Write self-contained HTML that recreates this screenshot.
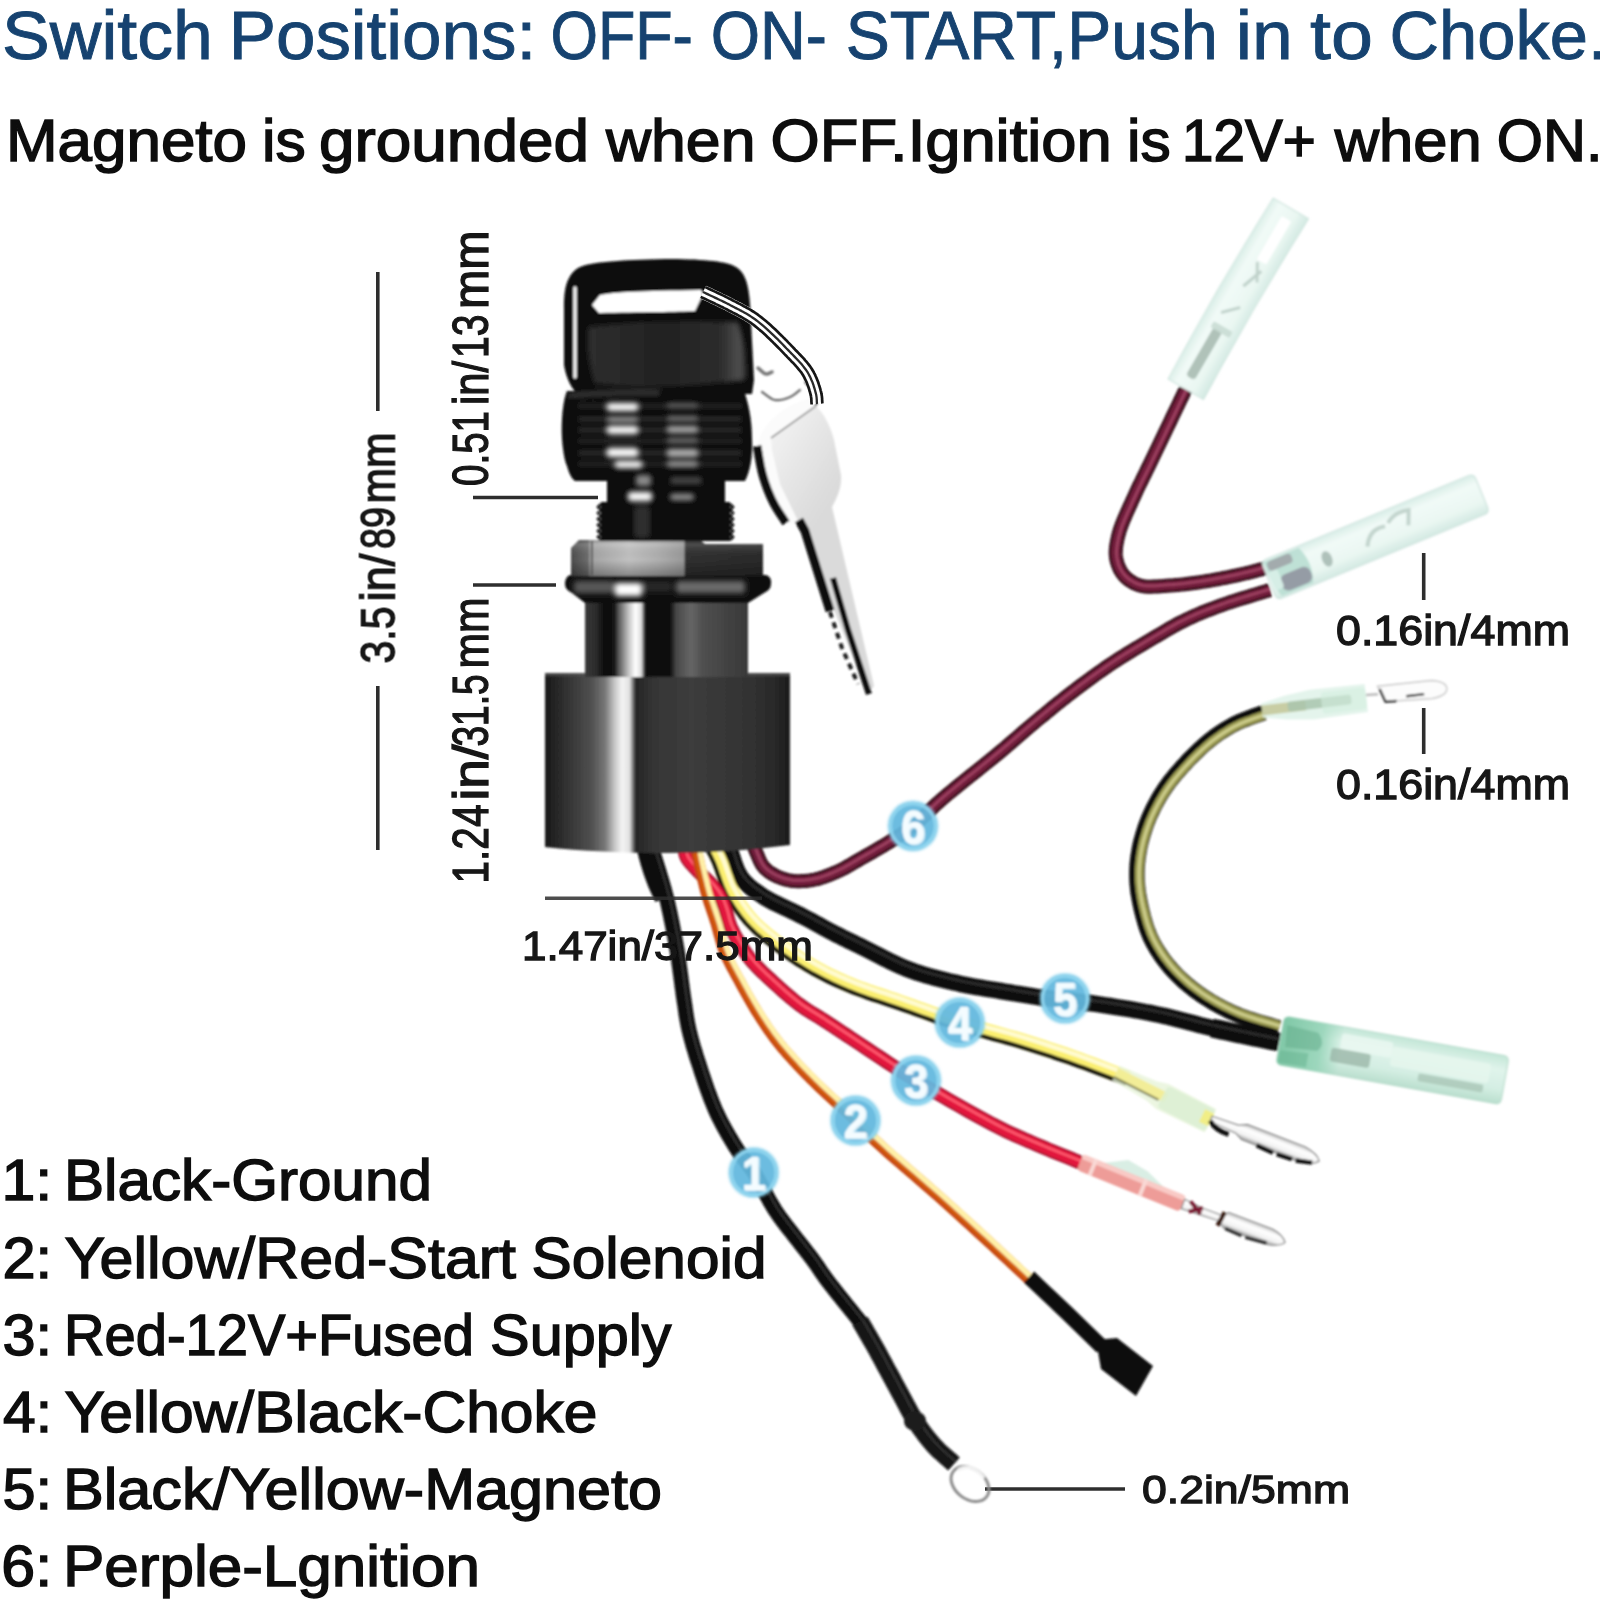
<!DOCTYPE html>
<html>
<head>
<meta charset="utf-8">
<title>Switch wiring diagram</title>
<style>
html,body{margin:0;padding:0;background:#fff;}
body{width:1600px;height:1600px;overflow:hidden;font-family:"Liberation Sans",sans-serif;}
svg{display:block;position:absolute;left:0;top:0;}
text{font-family:"Liberation Sans",sans-serif;}
.t1{fill:#14436f;stroke:#14436f;stroke-width:0.9px;font-size:68px;}
.t2{fill:#111;stroke:#111;stroke-width:1.5px;font-size:59.5px;}
.li{fill:#111;stroke:#111;stroke-width:1.4px;font-size:56.5px;}
.dm{fill:#141414;stroke:#141414;stroke-width:1.3px;font-size:38px;}
.dl{stroke:#2e2e2e;stroke-width:3.6;fill:none;}
.num{fill:#f4fcff;stroke:#f4fcff;stroke-width:0.6px;font-size:49px;font-weight:bold;text-anchor:middle;}
</style>
</head>
<body>
<svg width="1600" height="1600" viewBox="0 0 1600 1600">
<defs>
<filter id="soft" filterUnits="userSpaceOnUse" x="0" y="0" width="1600" height="1600"><feGaussianBlur stdDeviation="0.9"/></filter>
<filter id="soft2" filterUnits="userSpaceOnUse" x="0" y="0" width="1600" height="1600"><feGaussianBlur stdDeviation="1.6"/></filter>
<filter id="tsoft" filterUnits="userSpaceOnUse" x="0" y="0" width="1600" height="1600"><feGaussianBlur stdDeviation="0.6"/></filter>

<linearGradient id="gLow" gradientUnits="userSpaceOnUse" x1="545" y1="0" x2="790" y2="0">
<stop offset="0" stop-color="#181818"/><stop offset="0.08" stop-color="#303030"/><stop offset="0.19" stop-color="#505050"/><stop offset="0.245" stop-color="#777"/><stop offset="0.285" stop-color="#c8c8c8"/><stop offset="0.315" stop-color="#f4f4f4"/><stop offset="0.345" stop-color="#e0e0e0"/><stop offset="0.37" stop-color="#262626"/><stop offset="0.45" stop-color="#363636"/><stop offset="0.6" stop-color="#3c3c3c"/><stop offset="0.8" stop-color="#343434"/><stop offset="0.93" stop-color="#2a2a2a"/><stop offset="1" stop-color="#1c1c1c"/>
</linearGradient>
<linearGradient id="gUp" gradientUnits="userSpaceOnUse" x1="585" y1="0" x2="748" y2="0">
<stop offset="0" stop-color="#3a3a3a"/><stop offset="0.07" stop-color="#2a2a2a"/><stop offset="0.12" stop-color="#0c0c0c"/><stop offset="0.18" stop-color="#141414"/><stop offset="0.205" stop-color="#555"/><stop offset="0.27" stop-color="#c8c8c8"/><stop offset="0.31" stop-color="#fff"/><stop offset="0.345" stop-color="#dcdcdc"/><stop offset="0.37" stop-color="#0e0e0e"/><stop offset="0.52" stop-color="#0c0c0c"/><stop offset="0.56" stop-color="#484848"/><stop offset="0.65" stop-color="#666"/><stop offset="0.72" stop-color="#505050"/><stop offset="0.85" stop-color="#444"/><stop offset="1" stop-color="#383838"/>
</linearGradient>
<linearGradient id="gNut" gradientUnits="userSpaceOnUse" x1="571" y1="0" x2="764" y2="0">
<stop offset="0" stop-color="#4c4c4c"/><stop offset="0.09" stop-color="#6e6e6e"/><stop offset="0.1" stop-color="#a4a4a4"/><stop offset="0.3" stop-color="#c2c2c2"/><stop offset="0.45" stop-color="#b0b0b0"/><stop offset="0.583" stop-color="#9a9a9a"/><stop offset="0.594" stop-color="#303030"/><stop offset="1" stop-color="#2a2a2a"/>
</linearGradient>
<linearGradient id="gNutV" x1="0" y1="0" x2="0" y2="1">
<stop offset="0" stop-color="#000" stop-opacity="0.15"/><stop offset="0.12" stop-color="#fff" stop-opacity="0.15"/><stop offset="0.55" stop-color="#000" stop-opacity="0"/><stop offset="1" stop-color="#000" stop-opacity="0.3"/>
</linearGradient>
<linearGradient id="gKeyS" gradientUnits="userSpaceOnUse" x1="770" y1="420" x2="850" y2="470">
<stop offset="0" stop-color="#f4f4f4"/><stop offset="0.5" stop-color="#e6e6e6"/><stop offset="1" stop-color="#dadada"/>
</linearGradient>
<linearGradient id="gPanel" gradientUnits="userSpaceOnUse" x1="583" y1="0" x2="745" y2="0">
<stop offset="0" stop-color="#303030"/><stop offset="0.5" stop-color="#222"/><stop offset="0.85" stop-color="#2e2e2e"/><stop offset="0.97" stop-color="#555"/><stop offset="1" stop-color="#333"/>
</linearGradient>

<linearGradient id="gA" x1="0" y1="0" x2="0" y2="1"><stop offset="0" stop-color="#d9eee7"/><stop offset="0.25" stop-color="#f1faf7"/><stop offset="0.7" stop-color="#eaf7f2"/><stop offset="1" stop-color="#d3e9e2"/></linearGradient>
<linearGradient id="gC" x1="0" y1="0" x2="0" y2="1"><stop offset="0" stop-color="#c3e6d7"/><stop offset="0.3" stop-color="#e0f4eb"/><stop offset="0.7" stop-color="#d4eee3"/><stop offset="1" stop-color="#b9decd"/></linearGradient>
<linearGradient id="gCl" x1="0" y1="0" x2="1" y2="0"><stop offset="0" stop-color="#7cc6a4"/><stop offset="0.65" stop-color="#9ad6bb"/><stop offset="1" stop-color="#9ad6bb" stop-opacity="0"/></linearGradient>
<linearGradient id="gBul" x1="0" y1="0" x2="0" y2="1"><stop offset="0" stop-color="#c8c8c8"/><stop offset="0.3" stop-color="#fff"/><stop offset="0.7" stop-color="#f2f2f2"/><stop offset="1" stop-color="#9a9a9a"/></linearGradient>

<filter id="soft3" filterUnits="userSpaceOnUse" x="500" y="200" width="450" height="700"><feGaussianBlur stdDeviation="2.4"/></filter>
</defs>
<rect width="1600" height="1600" fill="#fff"/>

<!-- HEADINGS -->
<g id="headings" filter="url(#tsoft)">
<text class="t1" x="1.99" y="59" textLength="210.79" lengthAdjust="spacingAndGlyphs">Switch</text>
<text class="t1" x="228.66" y="59" textLength="307.44" lengthAdjust="spacingAndGlyphs">Positions:</text>
<text class="t1" x="550.53" y="59" textLength="142.44" lengthAdjust="spacingAndGlyphs">OFF-</text>
<text class="t1" x="710.77" y="59" textLength="116.22" lengthAdjust="spacingAndGlyphs">ON-</text>
<text class="t1" x="845.74" y="59" textLength="372.02" lengthAdjust="spacingAndGlyphs">START,Push</text>
<text class="t1" x="1235.83" y="59" textLength="57.09" lengthAdjust="spacingAndGlyphs">in</text>
<text class="t1" x="1310.03" y="59" textLength="62.87" lengthAdjust="spacingAndGlyphs">to</text>
<text class="t1" x="1389.46" y="59" textLength="217.63" lengthAdjust="spacingAndGlyphs">Choke.</text>
<text class="t2" x="6.00" y="161" textLength="241.00" lengthAdjust="spacingAndGlyphs">Magneto</text>
<text class="t2" x="262.07" y="161" textLength="43.64" lengthAdjust="spacingAndGlyphs">is</text>
<text class="t2" x="319.01" y="161" textLength="269.98" lengthAdjust="spacingAndGlyphs">grounded</text>
<text class="t2" x="605.97" y="161" textLength="149.44" lengthAdjust="spacingAndGlyphs">when</text>
<text class="t2" x="770.51" y="161" textLength="341.24" lengthAdjust="spacingAndGlyphs">OFF.Ignition</text>
<text class="t2" x="1127.07" y="161" textLength="43.64" lengthAdjust="spacingAndGlyphs">is</text>
<text class="t2" x="1182.00" y="161" textLength="133.75" lengthAdjust="spacingAndGlyphs">12V+</text>
<text class="t2" x="1334.73" y="161" textLength="146.93" lengthAdjust="spacingAndGlyphs">when</text>
<text class="t2" x="1496.72" y="161" textLength="105.83" lengthAdjust="spacingAndGlyphs">ON.</text>
</g>

<!-- LEGEND LIST -->
<g id="legend" filter="url(#tsoft)">
<text class="li" x="1.53" y="1200" textLength="50.77" lengthAdjust="spacingAndGlyphs">1:</text>
<text class="li" x="63.98" y="1200" textLength="368.03" lengthAdjust="spacingAndGlyphs">Black-Ground</text>
<text class="li" x="2.47" y="1277.5" textLength="49.59" lengthAdjust="spacingAndGlyphs">2:</text>
<text class="li" x="64.50" y="1277.5" textLength="451.51" lengthAdjust="spacingAndGlyphs">Yellow/Red-Start</text>
<text class="li" x="531.50" y="1277.5" textLength="234.99" lengthAdjust="spacingAndGlyphs">Solenoid</text>
<text class="li" x="2.47" y="1354.5" textLength="49.59" lengthAdjust="spacingAndGlyphs">3:</text>
<text class="li" x="63.99" y="1354.5" textLength="410.02" lengthAdjust="spacingAndGlyphs">Red-12V+Fused</text>
<text class="li" x="490.05" y="1354.5" textLength="181.46" lengthAdjust="spacingAndGlyphs">Supply</text>
<text class="li" x="3.01" y="1432" textLength="48.96" lengthAdjust="spacingAndGlyphs">4:</text>
<text class="li" x="64.50" y="1432" textLength="532.98" lengthAdjust="spacingAndGlyphs">Yellow/Black-Choke</text>
<text class="li" x="2.47" y="1509" textLength="49.59" lengthAdjust="spacingAndGlyphs">5:</text>
<text class="li" x="63.00" y="1509" textLength="599.01" lengthAdjust="spacingAndGlyphs">Black/Yellow-Magneto</text>
<text class="li" x="1.39" y="1586" textLength="50.77" lengthAdjust="spacingAndGlyphs">6:</text>
<text class="li" x="62.97" y="1586" textLength="417.05" lengthAdjust="spacingAndGlyphs">Perple-Lgnition</text>
</g>

<!-- DIMENSIONS -->
<g id="dims" filter="url(#tsoft)">
<line class="dl" x1="377.8" y1="272" x2="377.8" y2="411"/>
<line class="dl" x1="377.8" y1="686" x2="377.8" y2="850"/>
<g transform="translate(394.5,663.5) rotate(-90)" style="font-size:47.5px"><text class="dm" x="0" y="0" style="font-size:47.5px" textLength="57" lengthAdjust="spacingAndGlyphs">3.5</text><text class="dm" x="62" y="0" style="font-size:47.5px" textLength="48" lengthAdjust="spacingAndGlyphs">in/</text><text class="dm" x="114.5" y="0" style="font-size:47.5px" textLength="42.0" lengthAdjust="spacingAndGlyphs">89</text><text class="dm" x="160" y="0" style="font-size:47.5px" textLength="71" lengthAdjust="spacingAndGlyphs">mm</text></g>
<g transform="translate(487.5,486) rotate(-90)" style="font-size:50px"><text class="dm" x="0" y="0" style="font-size:50px" textLength="75" lengthAdjust="spacingAndGlyphs">0.51</text><text class="dm" x="81" y="0" style="font-size:50px" textLength="44" lengthAdjust="spacingAndGlyphs">in/</text><text class="dm" x="128" y="0" style="font-size:50px" textLength="43.5" lengthAdjust="spacingAndGlyphs">13</text><text class="dm" x="177" y="0" style="font-size:50px" textLength="78.5" lengthAdjust="spacingAndGlyphs">mm</text></g>
<g transform="translate(487.5,883.5) rotate(-90)" style="font-size:50px"><text class="dm" x="0" y="0" style="font-size:50px" textLength="79" lengthAdjust="spacingAndGlyphs">1.24</text><text class="dm" x="83" y="0" style="font-size:50px" textLength="56" lengthAdjust="spacingAndGlyphs">in/</text><text class="dm" x="137" y="0" style="font-size:50px" textLength="72" lengthAdjust="spacingAndGlyphs">31.5</text><text class="dm" x="215" y="0" style="font-size:50px" textLength="71" lengthAdjust="spacingAndGlyphs">mm</text></g>
<line class="dl" x1="473" y1="497.5" x2="598" y2="497.5"/>
<line class="dl" x1="473" y1="585" x2="556" y2="585"/>
<line class="dl" x1="1423.7" y1="553" x2="1423.7" y2="600"/>
<line class="dl" x1="1423.7" y1="708" x2="1423.7" y2="754"/>
<text class="dm" x="1336" y="644.5" style="font-size:42px" textLength="234" lengthAdjust="spacingAndGlyphs" stroke-width="1.5">0.16in/4mm</text>
<text class="dm" x="1336" y="799" style="font-size:42px" textLength="234" lengthAdjust="spacingAndGlyphs" stroke-width="1.5">0.16in/4mm</text>
<line class="dl" x1="985" y1="1489" x2="1125" y2="1489"/>
<text class="dm" x="1142" y="1502.5" style="font-size:39.5px" textLength="208" lengthAdjust="spacingAndGlyphs" stroke-width="1.5">0.2in/5mm</text>
</g>

<!-- PHOTO -->
<g id="photo" filter="url(#soft)">
<path d="M753.5 846.0 L754.6 848.3 L755.6 850.7 L756.6 853.1 L757.6 855.5 L758.6 857.9 L759.6 860.3 L760.7 862.6 L762.0 864.7 L763.4 866.7 L765.0 868.5 L766.8 870.1 L768.8 871.7 L770.9 873.1 L773.1 874.4 L775.4 875.7 L777.8 876.8 L780.2 877.7 L782.7 878.6 L785.1 879.4 L787.5 880.0 L789.9 880.5 L792.3 880.9 L794.8 881.1 L797.3 881.2 L799.9 881.2 L802.4 881.1 L805.0 881.0 L807.5 880.7 L810.0 880.4 L812.5 880.0 L815.0 879.5 L817.6 878.9 L820.1 878.2 L822.6 877.4 L825.1 876.6 L827.6 875.6 L830.1 874.7 L832.6 873.6 L835.1 872.6 L837.5 871.5 L840.0 870.4 L842.5 869.1 L844.9 867.9 L847.3 866.5 L849.7 865.2 L852.1 863.8 L854.6 862.3 L857.0 860.9 L859.5 859.4 L862.0 858.0 L864.8 856.4 L867.7 854.7 L870.7 853.1 L873.7 851.4 L876.6 849.6 L879.6 847.9 L882.6 846.2 L885.5 844.4 L888.3 842.7 L891.0 841.0 L893.3 839.5 L895.6 838.1 L897.8 836.7 L900.0 835.3 L902.1 833.9 L904.3 832.4 L906.4 830.9 L908.6 829.4 L910.8 827.7 L913.0 826.0 L915.7 823.8 L918.3 821.5 L920.9 819.1 L923.5 816.5 L926.2 814.0 L928.9 811.3 L931.7 808.6 L934.6 805.8 L937.7 802.9 L941.0 800.0 L946.0 795.7 L951.6 791.1 L957.5 786.3 L963.6 781.3 L969.9 776.3 L976.3 771.2 L982.6 766.1 L988.7 761.2 L994.6 756.5 L1000.0 752.0 L1004.1 748.6 L1008.1 745.2 L1011.9 741.9 L1015.6 738.7 L1019.3 735.5 L1022.9 732.4 L1026.5 729.3 L1030.1 726.2 L1033.8 723.1 L1037.5 720.0 L1041.2 716.9 L1045.0 713.9 L1048.7 710.8 L1052.4 707.8 L1056.2 704.7 L1059.9 701.7 L1063.7 698.8 L1067.4 695.8 L1071.2 692.9 L1075.0 690.0 L1078.7 687.2 L1082.4 684.4 L1086.2 681.6 L1089.9 678.9 L1093.6 676.1 L1097.4 673.4 L1101.2 670.8 L1104.9 668.1 L1108.7 665.5 L1112.5 663.0 L1116.2 660.6 L1119.9 658.2 L1123.7 655.8 L1127.4 653.5 L1131.2 651.2 L1134.9 648.9 L1138.7 646.7 L1142.5 644.4 L1146.2 642.2 L1150.0 640.0 L1153.7 637.8 L1157.5 635.6 L1161.2 633.4 L1164.9 631.2 L1168.6 629.0 L1172.4 626.9 L1176.1 624.8 L1179.9 622.8 L1183.7 620.9 L1187.5 619.0 L1191.2 617.3 L1194.9 615.6 L1198.5 614.1 L1202.2 612.5 L1205.9 611.0 L1209.7 609.6 L1213.4 608.2 L1217.2 606.8 L1221.1 605.4 L1225.0 604.0 L1229.3 602.5 L1233.7 601.1 L1238.2 599.6 L1242.7 598.2 L1247.2 596.9 L1251.8 595.5 L1256.4 594.1 L1260.9 592.8 L1265.5 591.4 L1270.0 590.0" fill="none" stroke="#2e0712" stroke-width="14.0" stroke-linecap="butt" stroke-linejoin="round" />
<path d="M753.5 846.0 L754.6 848.3 L755.6 850.7 L756.6 853.1 L757.6 855.5 L758.6 857.9 L759.6 860.3 L760.7 862.6 L762.0 864.7 L763.4 866.7 L765.0 868.5 L766.8 870.1 L768.8 871.7 L770.9 873.1 L773.1 874.4 L775.4 875.7 L777.8 876.8 L780.2 877.7 L782.7 878.6 L785.1 879.4 L787.5 880.0 L789.9 880.5 L792.3 880.9 L794.8 881.1 L797.3 881.2 L799.9 881.2 L802.4 881.1 L805.0 881.0 L807.5 880.7 L810.0 880.4 L812.5 880.0 L815.0 879.5 L817.6 878.9 L820.1 878.2 L822.6 877.4 L825.1 876.6 L827.6 875.6 L830.1 874.7 L832.6 873.6 L835.1 872.6 L837.5 871.5 L840.0 870.4 L842.5 869.1 L844.9 867.9 L847.3 866.5 L849.7 865.2 L852.1 863.8 L854.6 862.3 L857.0 860.9 L859.5 859.4 L862.0 858.0 L864.8 856.4 L867.7 854.7 L870.7 853.1 L873.7 851.4 L876.6 849.6 L879.6 847.9 L882.6 846.2 L885.5 844.4 L888.3 842.7 L891.0 841.0 L893.3 839.5 L895.6 838.1 L897.8 836.7 L900.0 835.3 L902.1 833.9 L904.3 832.4 L906.4 830.9 L908.6 829.4 L910.8 827.7 L913.0 826.0 L915.7 823.8 L918.3 821.5 L920.9 819.1 L923.5 816.5 L926.2 814.0 L928.9 811.3 L931.7 808.6 L934.6 805.8 L937.7 802.9 L941.0 800.0 L946.0 795.7 L951.6 791.1 L957.5 786.3 L963.6 781.3 L969.9 776.3 L976.3 771.2 L982.6 766.1 L988.7 761.2 L994.6 756.5 L1000.0 752.0 L1004.1 748.6 L1008.1 745.2 L1011.9 741.9 L1015.6 738.7 L1019.3 735.5 L1022.9 732.4 L1026.5 729.3 L1030.1 726.2 L1033.8 723.1 L1037.5 720.0 L1041.2 716.9 L1045.0 713.9 L1048.7 710.8 L1052.4 707.8 L1056.2 704.7 L1059.9 701.7 L1063.7 698.8 L1067.4 695.8 L1071.2 692.9 L1075.0 690.0 L1078.7 687.2 L1082.4 684.4 L1086.2 681.6 L1089.9 678.9 L1093.6 676.1 L1097.4 673.4 L1101.2 670.8 L1104.9 668.1 L1108.7 665.5 L1112.5 663.0 L1116.2 660.6 L1119.9 658.2 L1123.7 655.8 L1127.4 653.5 L1131.2 651.2 L1134.9 648.9 L1138.7 646.7 L1142.5 644.4 L1146.2 642.2 L1150.0 640.0 L1153.7 637.8 L1157.5 635.6 L1161.2 633.4 L1164.9 631.2 L1168.6 629.0 L1172.4 626.9 L1176.1 624.8 L1179.9 622.8 L1183.7 620.9 L1187.5 619.0 L1191.2 617.3 L1194.9 615.6 L1198.5 614.1 L1202.2 612.5 L1205.9 611.0 L1209.7 609.6 L1213.4 608.2 L1217.2 606.8 L1221.1 605.4 L1225.0 604.0 L1229.3 602.5 L1233.7 601.1 L1238.2 599.6 L1242.7 598.2 L1247.2 596.9 L1251.8 595.5 L1256.4 594.1 L1260.9 592.8 L1265.5 591.4 L1270.0 590.0" fill="none" stroke="#701d3a" stroke-width="9.2" stroke-linecap="butt" stroke-linejoin="round" />
<path d="M754.2 845.7 L755.3 848.0 L756.4 850.4 L757.3 852.8 L758.3 855.2 L759.3 857.6 L760.3 860.0 L761.4 862.2 L762.7 864.3 L764.0 866.2 L765.6 867.9 L767.3 869.5 L769.2 871.0 L771.3 872.4 L773.5 873.7 L775.8 874.9 L778.1 876.0 L780.5 877.0 L782.9 877.9 L785.3 878.6 L787.7 879.2 L790.0 879.7 L792.4 880.1 L794.9 880.3 L797.4 880.4 L799.9 880.4 L802.4 880.3 L804.9 880.2 L807.4 879.9 L809.9 879.6 L812.4 879.2 L814.9 878.7 L817.4 878.1 L819.9 877.5 L822.4 876.7 L824.8 875.8 L827.3 874.9 L829.8 873.9 L832.3 872.9 L834.7 871.8 L837.2 870.8 L839.6 869.6 L842.1 868.4 L844.5 867.2 L846.9 865.8 L849.3 864.5 L851.7 863.1 L854.1 861.7 L856.6 860.2 L859.1 858.8 L861.6 857.3 L864.4 855.7 L867.3 854.0 L870.3 852.4 L873.3 850.7 L876.2 848.9 L879.2 847.2 L882.2 845.5 L885.0 843.7 L887.9 842.0 L890.6 840.3 L892.9 838.8 L895.2 837.4 L897.4 836.0 L899.6 834.6 L901.7 833.2 L903.8 831.8 L906.0 830.3 L908.1 828.7 L910.3 827.1 L912.5 825.4 L915.2 823.2 L917.8 820.9 L920.4 818.5 L923.0 816.0 L925.6 813.4 L928.3 810.7 L931.1 808.0 L934.1 805.2 L937.2 802.3 L940.5 799.4 L945.5 795.1 L951.1 790.5 L957.0 785.7 L963.1 780.7 L969.4 775.6 L975.8 770.6 L982.1 765.5 L988.2 760.6 L994.0 755.9 L999.5 751.4 L1003.6 747.9 L1007.5 744.6 L1011.4 741.3 L1015.1 738.1 L1018.8 734.9 L1022.4 731.8 L1026.0 728.7 L1029.6 725.6 L1033.3 722.5 L1037.0 719.4 L1040.7 716.3 L1044.5 713.2 L1048.2 710.2 L1051.9 707.1 L1055.7 704.1 L1059.4 701.1 L1063.2 698.1 L1067.0 695.2 L1070.7 692.3 L1074.5 689.4 L1078.2 686.5 L1082.0 683.7 L1085.7 681.0 L1089.4 678.2 L1093.2 675.5 L1096.9 672.8 L1100.7 670.1 L1104.5 667.5 L1108.3 664.9 L1112.1 662.3 L1115.8 659.9 L1119.5 657.5 L1123.2 655.1 L1127.0 652.8 L1130.8 650.5 L1134.5 648.2 L1138.3 646.0 L1142.1 643.7 L1145.8 641.5 L1149.6 639.3 L1153.3 637.1 L1157.0 634.9 L1160.8 632.7 L1164.5 630.5 L1168.2 628.3 L1172.0 626.2 L1175.8 624.1 L1179.5 622.1 L1183.3 620.2 L1187.2 618.3 L1190.9 616.6 L1194.5 614.9 L1198.2 613.3 L1201.9 611.8 L1205.6 610.3 L1209.4 608.9 L1213.1 607.4 L1217.0 606.0 L1220.8 604.6 L1224.7 603.2 L1229.1 601.7 L1233.5 600.3 L1237.9 598.9 L1242.4 597.5 L1247.0 596.1 L1251.5 594.7 L1256.1 593.4 L1260.7 592.0 L1265.2 590.6 L1269.8 589.2" fill="none" stroke="#9c3f60" stroke-width="2.8" stroke-linecap="butt" stroke-linejoin="round" />
<path d="M1270.0 567.0 L1267.5 567.7 L1265.1 568.3 L1262.7 569.0 L1260.3 569.6 L1257.8 570.3 L1255.4 570.9 L1252.9 571.6 L1250.3 572.2 L1247.7 572.9 L1245.0 573.5 L1241.6 574.3 L1238.0 575.1 L1234.3 575.9 L1230.6 576.7 L1226.8 577.5 L1222.9 578.2 L1219.0 579.0 L1215.1 579.7 L1211.3 580.4 L1207.5 581.0 L1203.7 581.6 L1199.9 582.2 L1196.1 582.7 L1192.3 583.2 L1188.5 583.7 L1184.7 584.2 L1181.0 584.6 L1177.2 585.0 L1173.6 585.3 L1170.0 585.5 L1166.8 585.7 L1163.6 586.0 L1160.4 586.2 L1157.3 586.5 L1154.1 586.6 L1151.1 586.7 L1148.1 586.7 L1145.3 586.5 L1142.6 586.1 L1140.0 585.5 L1138.0 584.9 L1136.1 584.1 L1134.3 583.3 L1132.5 582.3 L1130.8 581.3 L1129.1 580.2 L1127.6 579.0 L1126.1 577.7 L1124.8 576.4 L1123.5 575.0 L1122.3 573.5 L1121.3 571.9 L1120.3 570.3 L1119.4 568.5 L1118.6 566.7 L1117.9 564.8 L1117.3 562.9 L1116.7 560.9 L1116.3 559.0 L1116.0 557.0 L1115.8 554.8 L1115.7 552.5 L1115.8 550.2 L1116.0 547.8 L1116.3 545.4 L1116.7 543.0 L1117.2 540.5 L1117.7 538.1 L1118.3 535.5 L1119.0 533.0 L1119.9 529.9 L1121.0 526.7 L1122.2 523.5 L1123.5 520.2 L1124.9 516.9 L1126.4 513.5 L1127.9 510.2 L1129.4 506.8 L1131.0 503.4 L1132.5 500.0 L1134.2 496.3 L1135.9 492.6 L1137.6 488.9 L1139.4 485.1 L1141.3 481.4 L1143.1 477.6 L1145.0 473.8 L1146.8 470.0 L1148.7 466.3 L1150.5 462.5 L1152.3 458.7 L1154.1 455.0 L1155.9 451.2 L1157.7 447.5 L1159.5 443.7 L1161.3 439.9 L1163.1 436.2 L1164.9 432.4 L1166.7 428.7 L1168.5 425.0 L1170.2 421.4 L1171.9 417.8 L1173.6 414.3 L1175.3 410.7 L1177.0 407.2 L1178.7 403.7 L1180.4 400.1 L1182.1 396.6 L1183.8 393.0 L1185.5 389.5" fill="none" stroke="#2e0712" stroke-width="14.0" stroke-linecap="butt" stroke-linejoin="round" />
<path d="M1270.0 567.0 L1267.5 567.7 L1265.1 568.3 L1262.7 569.0 L1260.3 569.6 L1257.8 570.3 L1255.4 570.9 L1252.9 571.6 L1250.3 572.2 L1247.7 572.9 L1245.0 573.5 L1241.6 574.3 L1238.0 575.1 L1234.3 575.9 L1230.6 576.7 L1226.8 577.5 L1222.9 578.2 L1219.0 579.0 L1215.1 579.7 L1211.3 580.4 L1207.5 581.0 L1203.7 581.6 L1199.9 582.2 L1196.1 582.7 L1192.3 583.2 L1188.5 583.7 L1184.7 584.2 L1181.0 584.6 L1177.2 585.0 L1173.6 585.3 L1170.0 585.5 L1166.8 585.7 L1163.6 586.0 L1160.4 586.2 L1157.3 586.5 L1154.1 586.6 L1151.1 586.7 L1148.1 586.7 L1145.3 586.5 L1142.6 586.1 L1140.0 585.5 L1138.0 584.9 L1136.1 584.1 L1134.3 583.3 L1132.5 582.3 L1130.8 581.3 L1129.1 580.2 L1127.6 579.0 L1126.1 577.7 L1124.8 576.4 L1123.5 575.0 L1122.3 573.5 L1121.3 571.9 L1120.3 570.3 L1119.4 568.5 L1118.6 566.7 L1117.9 564.8 L1117.3 562.9 L1116.7 560.9 L1116.3 559.0 L1116.0 557.0 L1115.8 554.8 L1115.7 552.5 L1115.8 550.2 L1116.0 547.8 L1116.3 545.4 L1116.7 543.0 L1117.2 540.5 L1117.7 538.1 L1118.3 535.5 L1119.0 533.0 L1119.9 529.9 L1121.0 526.7 L1122.2 523.5 L1123.5 520.2 L1124.9 516.9 L1126.4 513.5 L1127.9 510.2 L1129.4 506.8 L1131.0 503.4 L1132.5 500.0 L1134.2 496.3 L1135.9 492.6 L1137.6 488.9 L1139.4 485.1 L1141.3 481.4 L1143.1 477.6 L1145.0 473.8 L1146.8 470.0 L1148.7 466.3 L1150.5 462.5 L1152.3 458.7 L1154.1 455.0 L1155.9 451.2 L1157.7 447.5 L1159.5 443.7 L1161.3 439.9 L1163.1 436.2 L1164.9 432.4 L1166.7 428.7 L1168.5 425.0 L1170.2 421.4 L1171.9 417.8 L1173.6 414.3 L1175.3 410.7 L1177.0 407.2 L1178.7 403.7 L1180.4 400.1 L1182.1 396.6 L1183.8 393.0 L1185.5 389.5" fill="none" stroke="#701d3a" stroke-width="9.2" stroke-linecap="butt" stroke-linejoin="round" />
<path d="M1269.8 566.2 L1267.3 566.9 L1264.9 567.5 L1262.5 568.2 L1260.0 568.8 L1257.6 569.5 L1255.2 570.1 L1252.7 570.8 L1250.1 571.4 L1247.5 572.1 L1244.8 572.7 L1241.4 573.5 L1237.8 574.3 L1234.2 575.1 L1230.4 575.9 L1226.6 576.7 L1222.7 577.5 L1218.9 578.2 L1215.0 578.9 L1211.2 579.6 L1207.4 580.2 L1203.6 580.8 L1199.8 581.4 L1196.0 581.9 L1192.2 582.4 L1188.4 582.9 L1184.6 583.4 L1180.9 583.8 L1177.2 584.2 L1173.5 584.5 L1169.9 584.7 L1166.8 584.9 L1163.6 585.2 L1160.4 585.4 L1157.2 585.7 L1154.1 585.8 L1151.1 585.9 L1148.2 585.9 L1145.4 585.7 L1142.7 585.3 L1140.2 584.7 L1138.3 584.1 L1136.4 583.4 L1134.6 582.6 L1132.9 581.6 L1131.2 580.6 L1129.6 579.5 L1128.1 578.4 L1126.7 577.1 L1125.3 575.8 L1124.1 574.5 L1123.0 573.0 L1121.9 571.5 L1121.0 569.9 L1120.1 568.2 L1119.3 566.4 L1118.6 564.5 L1118.0 562.7 L1117.5 560.7 L1117.1 558.8 L1116.8 556.9 L1116.6 554.7 L1116.5 552.5 L1116.6 550.2 L1116.8 547.9 L1117.1 545.6 L1117.5 543.1 L1118.0 540.7 L1118.5 538.2 L1119.1 535.7 L1119.8 533.2 L1120.7 530.1 L1121.7 527.0 L1122.9 523.8 L1124.2 520.5 L1125.6 517.2 L1127.1 513.8 L1128.6 510.5 L1130.2 507.1 L1131.7 503.7 L1133.2 500.3 L1134.9 496.7 L1136.6 493.0 L1138.4 489.2 L1140.2 485.5 L1142.0 481.7 L1143.8 477.9 L1145.7 474.2 L1147.6 470.4 L1149.4 466.6 L1151.2 462.8 L1153.0 459.1 L1154.8 455.3 L1156.6 451.6 L1158.4 447.8 L1160.3 444.0 L1162.1 440.3 L1163.9 436.5 L1165.7 432.8 L1167.4 429.1 L1169.2 425.3 L1170.9 421.8 L1172.7 418.2 L1174.4 414.6 L1176.1 411.1 L1177.8 407.5 L1179.4 404.0 L1181.1 400.5 L1182.8 396.9 L1184.5 393.4 L1186.2 389.8" fill="none" stroke="#9c3f60" stroke-width="2.8" stroke-linecap="butt" stroke-linejoin="round" />
<path d="M729.0 848.0 L730.2 851.0 L731.2 854.1 L732.3 857.2 L733.3 860.3 L734.3 863.4 L735.4 866.4 L736.6 869.4 L737.9 872.3 L739.4 875.0 L741.0 877.5 L742.7 879.7 L744.5 881.8 L746.5 883.8 L748.5 885.7 L750.6 887.5 L752.8 889.2 L755.1 890.9 L757.5 892.6 L760.0 894.3 L762.5 896.0 L765.7 898.1 L769.2 900.0 L772.8 902.0 L776.6 903.8 L780.5 905.7 L784.4 907.5 L788.4 909.4 L792.3 911.2 L796.2 913.1 L800.0 915.0 L803.8 917.0 L807.7 919.0 L811.6 921.1 L815.5 923.2 L819.3 925.3 L823.2 927.4 L826.9 929.4 L830.6 931.4 L834.1 933.3 L837.5 935.0 L839.9 936.2 L842.2 937.4 L844.4 938.4 L846.5 939.5 L848.5 940.5 L850.6 941.5 L852.8 942.5 L855.0 943.6 L857.4 944.8 L860.0 946.0 L864.2 948.1 L868.7 950.4 L873.5 952.8 L878.5 955.4 L883.7 958.1 L888.9 960.7 L894.2 963.2 L899.6 965.7 L904.8 968.0 L910.0 970.0 L914.9 971.8 L919.9 973.4 L924.9 975.0 L929.9 976.4 L934.9 977.8 L939.9 979.1 L944.9 980.3 L949.9 981.5 L955.0 982.6 L960.0 983.8 L965.0 984.8 L970.2 985.9 L975.3 986.8 L980.5 987.7 L985.7 988.6 L990.8 989.4 L995.9 990.2 L1000.7 991.0 L1005.5 991.8 L1010.0 992.5 L1013.4 993.1 L1016.7 993.6 L1020.0 994.2 L1023.1 994.7 L1026.2 995.2 L1029.2 995.7 L1032.2 996.2 L1035.2 996.7 L1038.1 997.1 L1041.0 997.5 L1043.5 997.8 L1045.9 998.1 L1048.2 998.3 L1050.5 998.6 L1052.7 998.8 L1055.0 999.0 L1057.3 999.2 L1059.8 999.4 L1062.3 999.7 L1065.0 1000.0 L1068.9 1000.5 L1073.1 1001.0 L1077.4 1001.5 L1081.9 1002.1 L1086.5 1002.7 L1091.2 1003.3 L1095.9 1003.9 L1100.6 1004.6 L1105.3 1005.3 L1110.0 1006.0 L1114.9 1006.8 L1119.8 1007.6 L1124.8 1008.4 L1129.8 1009.2 L1134.9 1010.1 L1139.9 1011.0 L1144.9 1012.0 L1150.0 1012.9 L1155.0 1014.0 L1160.0 1015.0 L1165.0 1016.1 L1169.9 1017.3 L1174.8 1018.5 L1179.6 1019.8 L1184.5 1021.0 L1189.4 1022.3 L1194.4 1023.6 L1199.5 1025.0 L1204.7 1026.2 L1210.0 1027.5 L1216.4 1029.0 L1223.1 1030.4 L1229.9 1031.9 L1236.8 1033.3 L1243.8 1034.8 L1250.9 1036.2 L1257.9 1037.7 L1265.0 1039.1 L1272.0 1040.6 L1279.0 1042.0" fill="none" stroke="#101010" stroke-width="16.5" stroke-linecap="butt" stroke-linejoin="round" />
<path d="M731.8 846.9 L733.0 850.0 L734.1 853.1 L735.1 856.2 L736.1 859.3 L737.1 862.4 L738.2 865.4 L739.3 868.2 L740.6 870.9 L741.9 873.4 L743.5 875.8 L745.0 877.8 L746.7 879.8 L748.6 881.7 L750.5 883.4 L752.5 885.2 L754.6 886.8 L756.9 888.5 L759.2 890.1 L761.6 891.8 L764.1 893.5 L767.3 895.5 L770.7 897.4 L774.2 899.3 L777.9 901.1 L781.8 903.0 L785.7 904.8 L789.6 906.6 L793.6 908.5 L797.5 910.4 L801.4 912.3 L805.2 914.3 L809.1 916.4 L813.0 918.5 L816.9 920.6 L820.8 922.7 L824.6 924.8 L828.4 926.8 L832.0 928.7 L835.5 930.6 L838.9 932.3 L841.3 933.6 L843.5 934.7 L845.7 935.8 L847.8 936.8 L849.8 937.8 L851.9 938.8 L854.1 939.8 L856.3 940.9 L858.7 942.0 L861.3 943.3 L865.5 945.4 L870.1 947.7 L874.9 950.2 L879.9 952.8 L885.0 955.4 L890.2 958.0 L895.5 960.5 L900.8 963.0 L906.0 965.2 L911.1 967.2 L915.9 968.9 L920.8 970.6 L925.7 972.1 L930.7 973.5 L935.6 974.9 L940.6 976.1 L945.6 977.4 L950.6 978.5 L955.6 979.7 L960.6 980.8 L965.6 981.9 L970.7 982.9 L975.9 983.9 L981.0 984.8 L986.2 985.6 L991.3 986.5 L996.3 987.3 L1001.2 988.0 L1006.0 988.8 L1010.5 989.5 L1013.9 990.1 L1017.2 990.7 L1020.5 991.2 L1023.6 991.8 L1026.7 992.3 L1029.7 992.8 L1032.7 993.3 L1035.6 993.7 L1038.5 994.1 L1041.4 994.5 L1043.8 994.8 L1046.2 995.1 L1048.5 995.3 L1050.7 995.6 L1053.0 995.8 L1055.3 996.0 L1057.6 996.2 L1060.1 996.4 L1062.6 996.7 L1065.3 997.0 L1069.3 997.5 L1073.4 998.0 L1077.8 998.5 L1082.3 999.1 L1086.9 999.7 L1091.6 1000.3 L1096.3 1001.0 L1101.1 1001.6 L1105.8 1002.3 L1110.5 1003.0 L1115.4 1003.8 L1120.3 1004.6 L1125.3 1005.4 L1130.3 1006.3 L1135.4 1007.2 L1140.4 1008.1 L1145.5 1009.0 L1150.6 1010.0 L1155.6 1011.0 L1160.6 1012.1 L1165.7 1013.2 L1170.6 1014.4 L1175.5 1015.6 L1180.4 1016.9 L1185.3 1018.1 L1190.2 1019.4 L1195.2 1020.7 L1200.2 1022.0 L1205.4 1023.3 L1210.7 1024.6 L1217.1 1026.0 L1223.7 1027.5 L1230.5 1028.9 L1237.4 1030.4 L1244.4 1031.8 L1251.5 1033.3 L1258.5 1034.7 L1265.6 1036.2 L1272.7 1037.6 L1279.6 1039.1" fill="none" stroke="#2c2c2c" stroke-width="3.0" stroke-linecap="butt" stroke-linejoin="round" />
<path d="M1212.0 1028.0 L1215.3 1028.7 L1218.6 1029.4 L1221.9 1030.1 L1225.2 1030.8 L1228.5 1031.5 L1231.8 1032.2 L1235.1 1032.9 L1238.4 1033.6 L1241.7 1034.3 L1245.0 1035.0 L1248.4 1035.7 L1251.8 1036.4 L1255.2 1037.1 L1258.6 1037.8 L1262.0 1038.5 L1265.4 1039.2 L1268.8 1039.9 L1272.2 1040.6 L1275.6 1041.3 L1279.0 1042.0" fill="none" stroke="#101010" stroke-width="19.0" stroke-linecap="butt" stroke-linejoin="round" />
<path d="M1212.6 1025.1 L1215.9 1025.8 L1219.2 1026.5 L1222.5 1027.2 L1225.8 1027.9 L1229.1 1028.6 L1232.4 1029.3 L1235.7 1030.0 L1239.0 1030.7 L1242.3 1031.4 L1245.6 1032.1 L1249.0 1032.8 L1252.4 1033.5 L1255.8 1034.2 L1259.2 1034.9 L1262.6 1035.6 L1266.0 1036.3 L1269.4 1037.0 L1272.8 1037.7 L1276.2 1038.4 L1279.6 1039.1" fill="none" stroke="#2a2a2a" stroke-width="3.0" stroke-linecap="butt" stroke-linejoin="round" />
<path d="M1279.0 1028.0 L1274.6 1026.6 L1270.1 1025.3 L1265.6 1024.0 L1261.1 1022.7 L1256.7 1021.4 L1252.2 1020.0 L1247.8 1018.6 L1243.5 1017.1 L1239.2 1015.5 L1235.0 1013.8 L1231.0 1011.9 L1227.1 1010.1 L1223.1 1008.1 L1219.3 1006.1 L1215.4 1004.0 L1211.7 1001.8 L1208.0 999.5 L1204.4 997.2 L1200.9 994.9 L1197.5 992.5 L1194.4 990.2 L1191.4 987.9 L1188.5 985.5 L1185.6 983.1 L1182.8 980.6 L1180.1 978.1 L1177.4 975.5 L1174.9 972.9 L1172.4 970.2 L1170.0 967.5 L1167.8 964.8 L1165.6 962.1 L1163.5 959.3 L1161.4 956.5 L1159.5 953.6 L1157.6 950.7 L1155.8 947.8 L1154.1 944.8 L1152.5 941.8 L1151.0 938.8 L1149.6 935.7 L1148.4 932.7 L1147.2 929.6 L1146.1 926.4 L1145.1 923.2 L1144.2 920.0 L1143.3 916.9 L1142.5 913.7 L1141.7 910.6 L1141.0 907.5 L1140.4 904.7 L1139.8 901.9 L1139.3 899.2 L1138.8 896.4 L1138.3 893.7 L1137.9 891.0 L1137.6 888.2 L1137.4 885.5 L1137.1 882.7 L1137.0 880.0 L1136.9 877.3 L1136.9 874.5 L1136.9 871.8 L1137.0 869.1 L1137.1 866.3 L1137.3 863.6 L1137.6 860.8 L1137.9 858.1 L1138.3 855.3 L1138.8 852.5 L1139.3 849.4 L1139.9 846.3 L1140.6 843.2 L1141.4 840.0 L1142.3 836.9 L1143.2 833.7 L1144.2 830.6 L1145.2 827.4 L1146.3 824.3 L1147.5 821.2 L1148.8 818.1 L1150.2 814.8 L1151.7 811.6 L1153.2 808.4 L1154.8 805.3 L1156.5 802.1 L1158.2 799.0 L1160.0 795.9 L1161.9 792.9 L1163.8 790.0 L1165.6 787.2 L1167.6 784.4 L1169.6 781.7 L1171.7 779.1 L1173.8 776.4 L1176.0 773.8 L1178.2 771.3 L1180.4 768.8 L1182.7 766.2 L1185.0 763.8 L1187.3 761.2 L1189.7 758.7 L1192.2 756.2 L1194.7 753.7 L1197.2 751.3 L1199.7 748.9 L1202.2 746.6 L1204.8 744.3 L1207.4 742.1 L1210.0 740.0 L1212.4 738.1 L1214.8 736.3 L1217.3 734.5 L1219.7 732.8 L1222.2 731.2 L1224.7 729.6 L1227.2 728.1 L1229.8 726.6 L1232.4 725.1 L1235.0 723.8 L1237.8 722.4 L1240.6 721.2 L1243.4 720.0 L1246.3 718.9 L1249.3 717.8 L1252.2 716.7 L1255.2 715.7 L1258.1 714.7 L1261.1 713.6 L1264.0 712.5" fill="none" stroke="#0c0c0c" stroke-width="15.5" stroke-linecap="butt" stroke-linejoin="round" />
<path d="M1279.7 1025.8 L1275.3 1024.4 L1270.8 1023.1 L1266.3 1021.8 L1261.8 1020.5 L1257.3 1019.2 L1252.9 1017.8 L1248.5 1016.4 L1244.2 1014.9 L1240.0 1013.4 L1235.9 1011.6 L1232.0 1009.9 L1228.1 1008.0 L1224.2 1006.1 L1220.3 1004.0 L1216.6 1002.0 L1212.9 999.8 L1209.2 997.6 L1205.7 995.3 L1202.2 993.0 L1198.8 990.6 L1195.8 988.4 L1192.8 986.1 L1189.9 983.8 L1187.1 981.4 L1184.4 978.9 L1181.7 976.4 L1179.1 973.9 L1176.5 971.3 L1174.1 968.7 L1171.7 966.0 L1169.5 963.4 L1167.4 960.7 L1165.3 958.0 L1163.3 955.2 L1161.4 952.3 L1159.6 949.5 L1157.8 946.6 L1156.1 943.7 L1154.6 940.7 L1153.1 937.8 L1151.7 934.8 L1150.5 931.8 L1149.4 928.8 L1148.3 925.7 L1147.3 922.6 L1146.4 919.4 L1145.5 916.3 L1144.7 913.1 L1144.0 910.0 L1143.2 907.0 L1142.6 904.2 L1142.0 901.5 L1141.5 898.7 L1141.0 896.0 L1140.6 893.3 L1140.2 890.7 L1139.9 888.0 L1139.6 885.3 L1139.4 882.6 L1139.3 879.9 L1139.2 877.2 L1139.2 874.5 L1139.2 871.8 L1139.3 869.2 L1139.4 866.5 L1139.6 863.8 L1139.9 861.1 L1140.2 858.4 L1140.6 855.6 L1141.0 852.9 L1141.6 849.9 L1142.2 846.8 L1142.9 843.7 L1143.6 840.6 L1144.5 837.5 L1145.4 834.4 L1146.3 831.3 L1147.4 828.2 L1148.5 825.1 L1149.6 822.1 L1150.9 818.9 L1152.3 815.8 L1153.7 812.6 L1155.3 809.5 L1156.9 806.3 L1158.5 803.2 L1160.2 800.1 L1162.0 797.1 L1163.8 794.2 L1165.7 791.3 L1167.5 788.5 L1169.5 785.8 L1171.5 783.1 L1173.5 780.5 L1175.6 777.9 L1177.7 775.3 L1179.9 772.8 L1182.2 770.3 L1184.4 767.8 L1186.7 765.3 L1189.0 762.8 L1191.4 760.3 L1193.8 757.8 L1196.3 755.4 L1198.7 753.0 L1201.3 750.6 L1203.8 748.3 L1206.3 746.0 L1208.9 743.9 L1211.4 741.8 L1213.8 740.0 L1216.2 738.2 L1218.6 736.4 L1221.0 734.7 L1223.4 733.1 L1225.9 731.6 L1228.4 730.0 L1230.9 728.6 L1233.4 727.2 L1236.0 725.8 L1238.7 724.5 L1241.5 723.3 L1244.3 722.1 L1247.2 721.0 L1250.1 720.0 L1253.0 718.9 L1256.0 717.9 L1258.9 716.8 L1261.9 715.8 L1264.8 714.7" fill="none" stroke="#9c9c52" stroke-width="8.6" stroke-linecap="butt" stroke-linejoin="round" />
<path d="M1279.7 1025.9 L1275.2 1024.5 L1270.7 1023.2 L1266.2 1021.9 L1261.8 1020.6 L1257.3 1019.3 L1252.9 1017.9 L1248.5 1016.5 L1244.2 1015.0 L1240.0 1013.4 L1235.9 1011.7 L1231.9 1010.0 L1228.0 1008.1 L1224.1 1006.1 L1220.3 1004.1 L1216.5 1002.0 L1212.8 999.9 L1209.2 997.7 L1205.6 995.4 L1202.1 993.1 L1198.8 990.7 L1195.8 988.5 L1192.8 986.2 L1189.9 983.8 L1187.1 981.4 L1184.3 979.0 L1181.6 976.5 L1179.0 974.0 L1176.5 971.4 L1174.0 968.7 L1171.7 966.1 L1169.5 963.4 L1167.3 960.7 L1165.3 958.0 L1163.2 955.2 L1161.3 952.4 L1159.5 949.5 L1157.7 946.6 L1156.0 943.7 L1154.5 940.8 L1153.0 937.8 L1151.7 934.9 L1150.4 931.9 L1149.3 928.8 L1148.2 925.7 L1147.2 922.6 L1146.3 919.4 L1145.4 916.3 L1144.6 913.2 L1143.9 910.1 L1143.1 907.0 L1142.5 904.2 L1141.9 901.5 L1141.4 898.8 L1140.9 896.1 L1140.5 893.4 L1140.1 890.7 L1139.8 888.0 L1139.5 885.3 L1139.3 882.6 L1139.2 879.9 L1139.1 877.2 L1139.1 874.5 L1139.1 871.8 L1139.2 869.2 L1139.3 866.5 L1139.5 863.8 L1139.8 861.1 L1140.1 858.4 L1140.5 855.6 L1140.9 852.9 L1141.5 849.8 L1142.1 846.8 L1142.8 843.7 L1143.5 840.6 L1144.4 837.5 L1145.3 834.4 L1146.3 831.3 L1147.3 828.2 L1148.4 825.1 L1149.5 822.1 L1150.8 818.9 L1152.2 815.7 L1153.7 812.6 L1155.2 809.4 L1156.8 806.3 L1158.4 803.2 L1160.2 800.1 L1161.9 797.1 L1163.7 794.1 L1165.6 791.2 L1167.5 788.4 L1169.4 785.7 L1171.4 783.1 L1173.4 780.4 L1175.5 777.8 L1177.7 775.3 L1179.9 772.7 L1182.1 770.2 L1184.3 767.7 L1186.6 765.2 L1188.9 762.7 L1191.3 760.2 L1193.7 757.8 L1196.2 755.3 L1198.7 752.9 L1201.2 750.5 L1203.7 748.2 L1206.3 746.0 L1208.8 743.8 L1211.4 741.7 L1213.8 739.9 L1216.1 738.1 L1218.5 736.3 L1221.0 734.7 L1223.4 733.0 L1225.8 731.5 L1228.3 730.0 L1230.8 728.5 L1233.4 727.1 L1236.0 725.7 L1238.7 724.4 L1241.4 723.2 L1244.3 722.0 L1247.1 720.9 L1250.0 719.9 L1253.0 718.8 L1255.9 717.8 L1258.9 716.7 L1261.8 715.7 L1264.8 714.6" fill="none" stroke="#cfcf8e" stroke-width="2.8" stroke-linecap="butt" stroke-linejoin="round" />
<path d="M712.0 846.0 L712.7 847.4 L713.4 848.7 L714.1 850.0 L714.8 851.3 L715.4 852.6 L716.1 854.0 L716.8 855.4 L717.5 856.8 L718.3 858.4 L719.0 860.0 L720.1 862.6 L721.2 865.4 L722.2 868.5 L723.3 871.7 L724.4 874.9 L725.6 878.2 L726.8 881.5 L728.1 884.8 L729.5 888.0 L731.0 891.0 L732.6 894.0 L734.3 896.9 L736.0 899.8 L737.8 902.7 L739.7 905.5 L741.6 908.3 L743.6 911.1 L745.7 913.8 L747.8 916.4 L750.0 919.0 L752.2 921.5 L754.5 923.9 L756.8 926.2 L759.2 928.4 L761.7 930.6 L764.2 932.8 L766.8 935.0 L769.5 937.1 L772.2 939.3 L775.0 941.5 L778.3 944.1 L781.8 946.7 L785.4 949.3 L789.1 951.9 L792.8 954.4 L796.6 957.0 L800.5 959.5 L804.3 961.9 L808.2 964.3 L812.0 966.5 L815.7 968.6 L819.4 970.6 L823.1 972.6 L826.8 974.4 L830.5 976.3 L834.3 978.1 L838.1 979.8 L842.0 981.6 L845.9 983.3 L850.0 985.0 L854.7 986.9 L859.4 988.7 L864.3 990.4 L869.2 992.2 L874.2 993.9 L879.3 995.5 L884.4 997.2 L889.6 999.0 L894.8 1000.7 L900.0 1002.5 L905.8 1004.5 L911.6 1006.6 L917.6 1008.8 L923.6 1010.9 L929.6 1013.1 L935.7 1015.3 L941.8 1017.4 L947.9 1019.5 L954.0 1021.5 L960.0 1023.5 L966.0 1025.3 L972.0 1027.1 L978.1 1028.8 L984.1 1030.5 L990.1 1032.1 L996.2 1033.8 L1002.2 1035.4 L1008.2 1037.1 L1014.1 1038.7 L1020.0 1040.5 L1025.6 1042.2 L1031.2 1044.0 L1036.7 1045.7 L1042.3 1047.5 L1047.8 1049.3 L1053.2 1051.1 L1058.7 1052.9 L1064.1 1054.7 L1069.6 1056.6 L1075.0 1058.5 L1080.4 1060.4 L1085.7 1062.4 L1091.0 1064.3 L1096.3 1066.3 L1101.6 1068.4 L1106.9 1070.4 L1112.1 1072.4 L1117.4 1074.5 L1122.7 1076.5 L1128.0 1078.5" fill="none" stroke="#fbef70" stroke-width="15.5" stroke-linecap="butt" stroke-linejoin="round" />
<path d="M706.8 848.6 L707.5 850.0 L708.2 851.4 L708.9 852.7 L709.6 854.0 L710.3 855.3 L711.0 856.6 L711.6 857.9 L712.3 859.3 L713.0 860.8 L713.7 862.3 L714.7 864.7 L715.7 867.4 L716.8 870.4 L717.8 873.5 L719.0 876.8 L720.2 880.2 L721.4 883.6 L722.8 887.0 L724.3 890.4 L725.8 893.7 L727.5 896.8 L729.2 899.8 L731.1 902.8 L732.9 905.8 L734.9 908.8 L736.9 911.7 L739.0 914.6 L741.1 917.4 L743.4 920.1 L745.6 922.8 L748.0 925.4 L750.4 927.9 L752.8 930.3 L755.3 932.7 L757.9 935.0 L760.5 937.2 L763.1 939.5 L765.8 941.7 L768.6 943.9 L771.4 946.1 L774.8 948.7 L778.4 951.3 L782.0 954.0 L785.8 956.6 L789.6 959.2 L793.4 961.8 L797.3 964.4 L801.3 966.8 L805.2 969.2 L809.1 971.5 L812.9 973.7 L816.6 975.7 L820.4 977.7 L824.2 979.6 L828.0 981.5 L831.8 983.3 L835.7 985.1 L839.6 986.9 L843.7 988.6 L847.8 990.4 L852.5 992.3 L857.4 994.1 L862.3 995.9 L867.3 997.7 L872.4 999.4 L877.5 1001.1 L882.6 1002.7 L887.7 1004.5 L892.9 1006.2 L898.1 1008.0 L903.8 1010.0 L909.7 1012.1 L915.6 1014.2 L921.6 1016.4 L927.7 1018.6 L933.8 1020.8 L939.9 1022.9 L946.0 1025.0 L952.1 1027.1 L958.3 1029.0 L964.3 1030.9 L970.4 1032.7 L976.5 1034.4 L982.6 1036.1 L988.6 1037.7 L994.7 1039.4 L1000.7 1041.0 L1006.6 1042.6 L1012.5 1044.3 L1018.3 1046.1 L1023.9 1047.8 L1029.5 1049.5 L1035.0 1051.2 L1040.5 1053.0 L1046.0 1054.8 L1051.4 1056.6 L1056.8 1058.4 L1062.3 1060.2 L1067.7 1062.1 L1073.1 1064.0 L1078.4 1065.9 L1083.7 1067.8 L1089.0 1069.8 L1094.2 1071.8 L1099.5 1073.8 L1104.8 1075.8 L1110.1 1077.8 L1115.3 1079.9 L1120.6 1081.9 L1125.9 1083.9" fill="none" stroke="#15150c" stroke-width="4.2" stroke-linecap="butt" stroke-linejoin="round" />
<path d="M715.6 844.2 L716.3 845.6 L716.9 846.9 L717.6 848.2 L718.3 849.5 L719.0 850.8 L719.7 852.2 L720.4 853.6 L721.1 855.1 L721.9 856.7 L722.7 858.4 L723.8 861.1 L724.9 864.1 L726.0 867.2 L727.1 870.4 L728.2 873.6 L729.4 876.9 L730.6 880.1 L731.8 883.3 L733.1 886.3 L734.6 889.2 L736.1 892.0 L737.7 894.9 L739.4 897.7 L741.2 900.5 L743.0 903.3 L744.9 906.0 L746.8 908.7 L748.8 911.3 L750.9 913.9 L753.0 916.4 L755.2 918.8 L757.4 921.1 L759.6 923.3 L762.0 925.5 L764.4 927.6 L766.8 929.8 L769.4 931.9 L772.0 934.0 L774.7 936.2 L777.5 938.3 L780.8 940.9 L784.2 943.4 L787.7 946.0 L791.4 948.6 L795.1 951.1 L798.8 953.6 L802.6 956.1 L806.4 958.5 L810.2 960.8 L814.0 963.0 L817.6 965.1 L821.3 967.1 L824.9 969.0 L828.5 970.9 L832.2 972.7 L835.9 974.4 L839.7 976.2 L843.6 977.9 L847.5 979.6 L851.5 981.3 L856.1 983.2 L860.8 984.9 L865.6 986.7 L870.5 988.4 L875.5 990.1 L880.6 991.8 L885.7 993.4 L890.8 995.2 L896.1 996.9 L901.3 998.7 L907.1 1000.8 L913.0 1002.9 L918.9 1005.0 L924.9 1007.2 L931.0 1009.4 L937.0 1011.5 L943.1 1013.6 L949.2 1015.7 L955.2 1017.7 L961.2 1019.7 L967.1 1021.5 L973.1 1023.3 L979.1 1025.0 L985.2 1026.6 L991.2 1028.3 L997.2 1029.9 L1003.3 1031.5 L1009.3 1033.2 L1015.2 1034.9 L1021.2 1036.7 L1026.8 1038.4 L1032.4 1040.1 L1038.0 1041.9 L1043.5 1043.7 L1049.0 1045.5 L1054.5 1047.3 L1060.0 1049.1 L1065.4 1050.9 L1070.9 1052.8 L1076.3 1054.7 L1081.7 1056.6 L1087.1 1058.6 L1092.4 1060.6 L1097.7 1062.6 L1103.0 1064.6 L1108.3 1066.7 L1113.6 1068.7 L1118.9 1070.7 L1124.1 1072.8 L1129.4 1074.8" fill="none" stroke="#fffbd0" stroke-width="4.5" stroke-linecap="butt" stroke-linejoin="round" />
<path d="M684.0 848.0 L684.3 849.0 L684.5 850.0 L684.7 851.0 L685.0 852.0 L685.2 853.0 L685.4 854.0 L685.7 855.0 L686.1 856.0 L686.5 857.0 L687.0 858.0 L687.8 859.4 L688.8 860.8 L689.9 862.2 L691.1 863.6 L692.4 865.0 L693.7 866.5 L695.1 867.9 L696.4 869.3 L697.7 870.7 L699.0 872.0 L700.2 873.3 L701.4 874.5 L702.7 875.7 L703.9 876.9 L705.1 878.1 L706.4 879.3 L707.6 880.4 L708.8 881.6 L709.9 882.8 L711.0 884.0 L712.0 885.1 L712.9 886.2 L713.8 887.2 L714.7 888.3 L715.6 889.4 L716.4 890.5 L717.2 891.6 L718.0 892.7 L718.8 893.8 L719.5 895.0 L720.2 896.2 L720.8 897.4 L721.4 898.7 L721.9 899.9 L722.5 901.2 L723.0 902.5 L723.5 903.8 L724.0 905.2 L724.5 906.6 L725.0 908.0 L725.6 909.8 L726.1 911.6 L726.6 913.4 L727.1 915.3 L727.6 917.3 L728.1 919.3 L728.7 921.3 L729.4 923.3 L730.1 925.4 L731.0 927.5 L732.4 930.4 L733.9 933.5 L735.6 936.6 L737.4 939.9 L739.3 943.1 L741.3 946.4 L743.4 949.6 L745.6 952.8 L747.8 955.8 L750.0 958.8 L752.2 961.5 L754.6 964.2 L757.0 966.8 L759.5 969.3 L762.0 971.8 L764.6 974.2 L767.2 976.6 L769.8 979.0 L772.4 981.4 L775.0 983.8 L777.5 986.0 L779.9 988.3 L782.4 990.5 L784.9 992.7 L787.4 994.8 L789.9 997.0 L792.4 999.0 L794.9 1001.1 L797.4 1003.1 L800.0 1005.0 L802.5 1006.8 L804.9 1008.5 L807.4 1010.1 L809.9 1011.7 L812.4 1013.2 L815.0 1014.8 L817.5 1016.3 L820.0 1017.8 L822.5 1019.4 L825.0 1021.0 L827.5 1022.6 L829.8 1024.2 L832.1 1025.7 L834.4 1027.2 L836.8 1028.7 L839.1 1030.3 L841.6 1032.0 L844.2 1033.7 L847.0 1035.5 L850.0 1037.5 L855.3 1041.0 L861.0 1044.8 L867.2 1048.9 L873.7 1053.3 L880.4 1057.7 L887.4 1062.3 L894.5 1067.0 L901.7 1071.6 L908.9 1076.1 L916.0 1080.5 L924.1 1085.4 L932.5 1090.4 L941.3 1095.5 L950.2 1100.7 L959.1 1105.8 L968.0 1110.8 L976.6 1115.6 L984.9 1120.1 L992.7 1124.3 L1000.0 1128.0 L1004.5 1130.3 L1008.8 1132.3 L1012.9 1134.3 L1016.9 1136.0 L1020.7 1137.7 L1024.5 1139.4 L1028.3 1141.0 L1032.1 1142.6 L1036.0 1144.3 L1040.0 1146.0 L1044.3 1147.8 L1048.6 1149.6 L1053.0 1151.5 L1057.4 1153.3 L1061.8 1155.0 L1066.3 1156.8 L1070.7 1158.6 L1075.2 1160.4 L1079.6 1162.2 L1084.0 1164.0" fill="none" stroke="#9c0d28" stroke-width="14.0" stroke-linecap="butt" stroke-linejoin="round" />
<path d="M684.0 848.0 L684.3 849.0 L684.5 850.0 L684.7 851.0 L685.0 852.0 L685.2 853.0 L685.4 854.0 L685.7 855.0 L686.1 856.0 L686.5 857.0 L687.0 858.0 L687.8 859.4 L688.8 860.8 L689.9 862.2 L691.1 863.6 L692.4 865.0 L693.7 866.5 L695.1 867.9 L696.4 869.3 L697.7 870.7 L699.0 872.0 L700.2 873.3 L701.4 874.5 L702.7 875.7 L703.9 876.9 L705.1 878.1 L706.4 879.3 L707.6 880.4 L708.8 881.6 L709.9 882.8 L711.0 884.0 L712.0 885.1 L712.9 886.2 L713.8 887.2 L714.7 888.3 L715.6 889.4 L716.4 890.5 L717.2 891.6 L718.0 892.7 L718.8 893.8 L719.5 895.0 L720.2 896.2 L720.8 897.4 L721.4 898.7 L721.9 899.9 L722.5 901.2 L723.0 902.5 L723.5 903.8 L724.0 905.2 L724.5 906.6 L725.0 908.0 L725.6 909.8 L726.1 911.6 L726.6 913.4 L727.1 915.3 L727.6 917.3 L728.1 919.3 L728.7 921.3 L729.4 923.3 L730.1 925.4 L731.0 927.5 L732.4 930.4 L733.9 933.5 L735.6 936.6 L737.4 939.9 L739.3 943.1 L741.3 946.4 L743.4 949.6 L745.6 952.8 L747.8 955.8 L750.0 958.8 L752.2 961.5 L754.6 964.2 L757.0 966.8 L759.5 969.3 L762.0 971.8 L764.6 974.2 L767.2 976.6 L769.8 979.0 L772.4 981.4 L775.0 983.8 L777.5 986.0 L779.9 988.3 L782.4 990.5 L784.9 992.7 L787.4 994.8 L789.9 997.0 L792.4 999.0 L794.9 1001.1 L797.4 1003.1 L800.0 1005.0 L802.5 1006.8 L804.9 1008.5 L807.4 1010.1 L809.9 1011.7 L812.4 1013.2 L815.0 1014.8 L817.5 1016.3 L820.0 1017.8 L822.5 1019.4 L825.0 1021.0 L827.5 1022.6 L829.8 1024.2 L832.1 1025.7 L834.4 1027.2 L836.8 1028.7 L839.1 1030.3 L841.6 1032.0 L844.2 1033.7 L847.0 1035.5 L850.0 1037.5 L855.3 1041.0 L861.0 1044.8 L867.2 1048.9 L873.7 1053.3 L880.4 1057.7 L887.4 1062.3 L894.5 1067.0 L901.7 1071.6 L908.9 1076.1 L916.0 1080.5 L924.1 1085.4 L932.5 1090.4 L941.3 1095.5 L950.2 1100.7 L959.1 1105.8 L968.0 1110.8 L976.6 1115.6 L984.9 1120.1 L992.7 1124.3 L1000.0 1128.0 L1004.5 1130.3 L1008.8 1132.3 L1012.9 1134.3 L1016.9 1136.0 L1020.7 1137.7 L1024.5 1139.4 L1028.3 1141.0 L1032.1 1142.6 L1036.0 1144.3 L1040.0 1146.0 L1044.3 1147.8 L1048.6 1149.6 L1053.0 1151.5 L1057.4 1153.3 L1061.8 1155.0 L1066.3 1156.8 L1070.7 1158.6 L1075.2 1160.4 L1079.6 1162.2 L1084.0 1164.0" fill="none" stroke="#e2153c" stroke-width="10.8" stroke-linecap="butt" stroke-linejoin="round" />
<path d="M685.5 847.6 L685.8 848.6 L686.1 849.6 L686.3 850.6 L686.5 851.6 L686.7 852.6 L687.0 853.5 L687.2 854.5 L687.6 855.4 L687.9 856.3 L688.4 857.2 L689.2 858.5 L690.1 859.8 L691.2 861.2 L692.3 862.6 L693.6 864.0 L694.9 865.4 L696.2 866.8 L697.6 868.2 L698.9 869.6 L700.2 870.9 L701.3 872.1 L702.5 873.4 L703.8 874.5 L705.0 875.7 L706.2 876.9 L707.5 878.1 L708.7 879.3 L709.9 880.5 L711.1 881.7 L712.2 882.9 L713.2 884.0 L714.1 885.1 L715.0 886.2 L715.9 887.3 L716.8 888.4 L717.7 889.5 L718.5 890.6 L719.4 891.8 L720.1 893.0 L720.9 894.2 L721.6 895.5 L722.2 896.7 L722.8 898.0 L723.4 899.3 L724.0 900.6 L724.5 901.9 L725.0 903.3 L725.5 904.6 L726.0 906.0 L726.5 907.5 L727.1 909.3 L727.7 911.1 L728.2 913.0 L728.7 914.9 L729.2 916.9 L729.7 918.8 L730.2 920.8 L730.9 922.8 L731.6 924.8 L732.5 926.8 L733.8 929.7 L735.3 932.7 L737.0 935.9 L738.8 939.1 L740.7 942.3 L742.7 945.5 L744.8 948.7 L746.9 951.9 L749.1 954.9 L751.3 957.8 L753.5 960.5 L755.8 963.1 L758.2 965.7 L760.6 968.2 L763.2 970.6 L765.7 973.1 L768.3 975.5 L770.9 977.9 L773.5 980.2 L776.1 982.6 L778.5 984.8 L781.0 987.1 L783.5 989.3 L785.9 991.5 L788.4 993.6 L790.9 995.7 L793.4 997.8 L795.9 999.8 L798.4 1001.8 L800.9 1003.7 L803.4 1005.5 L805.8 1007.1 L808.3 1008.7 L810.8 1010.3 L813.3 1011.9 L815.8 1013.4 L818.3 1014.9 L820.8 1016.5 L823.4 1018.0 L825.9 1019.7 L828.3 1021.3 L830.7 1022.8 L833.0 1024.3 L835.3 1025.9 L837.6 1027.4 L840.0 1029.0 L842.5 1030.6 L845.1 1032.4 L847.9 1034.2 L850.9 1036.2 L856.2 1039.7 L861.9 1043.5 L868.1 1047.6 L874.6 1051.9 L881.3 1056.4 L888.3 1061.0 L895.4 1065.6 L902.6 1070.2 L909.7 1074.8 L916.8 1079.1 L924.9 1084.0 L933.3 1089.0 L942.1 1094.2 L951.0 1099.3 L959.9 1104.4 L968.8 1109.4 L977.4 1114.2 L985.7 1118.7 L993.5 1122.8 L1000.7 1126.6 L1005.2 1128.8 L1009.5 1130.9 L1013.6 1132.8 L1017.5 1134.6 L1021.3 1136.3 L1025.1 1137.9 L1028.9 1139.5 L1032.7 1141.2 L1036.6 1142.8 L1040.6 1144.5 L1044.9 1146.4 L1049.3 1148.2 L1053.6 1150.0 L1058.0 1151.8 L1062.4 1153.6 L1066.9 1155.4 L1071.3 1157.1 L1075.8 1158.9 L1080.2 1160.7 L1084.6 1162.5" fill="none" stroke="#ff5a70" stroke-width="2.6" stroke-linecap="butt" stroke-linejoin="round" />
<path d="M696.0 846.0 L696.2 847.2 L696.4 848.4 L696.6 849.5 L696.7 850.7 L696.9 851.8 L697.1 853.0 L697.3 854.2 L697.5 855.4 L697.7 856.7 L698.0 858.0 L698.4 859.8 L698.8 861.6 L699.2 863.5 L699.6 865.5 L700.1 867.5 L700.6 869.6 L701.1 871.6 L701.5 873.6 L702.0 875.6 L702.5 877.5 L702.9 879.3 L703.3 881.0 L703.8 882.7 L704.2 884.4 L704.6 886.1 L705.0 887.8 L705.5 889.5 L705.9 891.3 L706.5 893.1 L707.0 895.0 L707.8 897.5 L708.6 900.1 L709.4 902.8 L710.4 905.5 L711.3 908.3 L712.2 911.1 L713.2 914.0 L714.2 916.8 L715.1 919.7 L716.0 922.5 L716.9 925.4 L717.7 928.4 L718.5 931.4 L719.3 934.4 L720.2 937.4 L721.0 940.5 L721.9 943.5 L722.8 946.5 L723.9 949.5 L725.0 952.5 L726.3 955.6 L727.7 958.8 L729.3 961.9 L730.8 965.1 L732.5 968.2 L734.2 971.3 L735.9 974.4 L737.6 977.5 L739.3 980.6 L741.0 983.8 L742.7 986.9 L744.5 990.1 L746.2 993.3 L748.0 996.5 L749.8 999.6 L751.6 1002.8 L753.5 1005.9 L755.3 1009.0 L757.1 1012.0 L759.0 1015.0 L760.7 1017.7 L762.5 1020.5 L764.3 1023.1 L766.0 1025.8 L767.8 1028.4 L769.6 1031.0 L771.4 1033.5 L773.3 1036.1 L775.1 1038.5 L777.0 1041.0 L778.8 1043.3 L780.7 1045.6 L782.5 1047.9 L784.4 1050.1 L786.3 1052.3 L788.2 1054.4 L790.2 1056.6 L792.1 1058.7 L794.0 1060.9 L796.0 1063.0 L797.9 1065.1 L799.8 1067.1 L801.7 1069.1 L803.6 1071.0 L805.5 1073.0 L807.4 1075.0 L809.4 1077.0 L811.5 1079.1 L813.7 1081.2 L816.0 1083.5 L819.4 1086.8 L823.2 1090.4 L827.3 1094.2 L831.5 1098.1 L835.8 1102.0 L840.0 1105.9 L844.2 1109.8 L848.3 1113.6 L852.1 1117.2 L855.5 1120.5 L857.7 1122.7 L859.8 1124.8 L861.6 1126.8 L863.4 1128.7 L865.2 1130.5 L866.9 1132.4 L868.8 1134.4 L870.8 1136.4 L873.0 1138.6 L875.5 1141.0 L880.5 1145.6 L886.1 1150.7 L892.3 1156.2 L899.0 1161.9 L905.9 1167.9 L913.0 1174.0 L920.1 1180.1 L927.0 1186.1 L933.7 1192.0 L940.0 1197.5 L945.3 1202.2 L950.5 1206.9 L955.6 1211.6 L960.7 1216.2 L965.7 1220.7 L970.7 1225.2 L975.6 1229.7 L980.4 1234.2 L985.2 1238.6 L990.0 1243.0 L994.4 1247.0 L998.6 1251.0 L1002.9 1254.9 L1007.1 1258.8 L1011.2 1262.7 L1015.4 1266.5 L1019.5 1270.4 L1023.7 1274.2 L1027.8 1278.1 L1032.0 1282.0" fill="none" stroke="#d25c0c" stroke-width="11.5" stroke-linecap="butt" stroke-linejoin="round" />
<path d="M699.2 845.5 L699.4 846.7 L699.5 847.9 L699.7 849.0 L699.9 850.2 L700.1 851.3 L700.3 852.5 L700.5 853.7 L700.7 854.9 L700.9 856.1 L701.1 857.4 L701.5 859.1 L701.9 860.9 L702.3 862.8 L702.8 864.8 L703.2 866.8 L703.7 868.8 L704.2 870.8 L704.7 872.8 L705.1 874.8 L705.6 876.7 L706.0 878.5 L706.5 880.3 L706.9 881.9 L707.3 883.6 L707.7 885.3 L708.1 887.0 L708.6 888.7 L709.0 890.4 L709.5 892.2 L710.1 894.1 L710.8 896.6 L711.6 899.1 L712.5 901.8 L713.4 904.5 L714.3 907.3 L715.3 910.1 L716.2 912.9 L717.2 915.8 L718.1 918.7 L719.1 921.6 L720.0 924.5 L720.8 927.6 L721.6 930.6 L722.4 933.6 L723.2 936.6 L724.1 939.6 L724.9 942.6 L725.9 945.5 L726.9 948.4 L728.0 951.3 L729.3 954.4 L730.6 957.4 L732.1 960.5 L733.7 963.6 L735.3 966.7 L737.0 969.8 L738.7 972.9 L740.4 976.0 L742.1 979.1 L743.8 982.2 L745.5 985.4 L747.3 988.5 L749.0 991.7 L750.8 994.9 L752.6 998.0 L754.4 1001.2 L756.2 1004.3 L758.0 1007.3 L759.9 1010.3 L761.7 1013.3 L763.4 1016.0 L765.2 1018.7 L766.9 1021.4 L768.7 1024.0 L770.4 1026.6 L772.2 1029.1 L774.0 1031.7 L775.8 1034.2 L777.7 1036.6 L779.5 1039.0 L781.3 1041.3 L783.1 1043.6 L785.0 1045.8 L786.9 1048.0 L788.7 1050.2 L790.6 1052.3 L792.5 1054.5 L794.5 1056.6 L796.4 1058.7 L798.4 1060.8 L800.3 1062.9 L802.1 1064.9 L804.0 1066.9 L805.9 1068.8 L807.8 1070.8 L809.7 1072.7 L811.7 1074.7 L813.8 1076.8 L815.9 1079.0 L818.2 1081.2 L821.7 1084.5 L825.4 1088.1 L829.4 1091.8 L833.6 1095.7 L837.9 1099.6 L842.2 1103.6 L846.4 1107.5 L850.5 1111.3 L854.3 1114.9 L857.7 1118.2 L860.0 1120.5 L862.1 1122.6 L864.0 1124.6 L865.8 1126.5 L867.5 1128.3 L869.3 1130.2 L871.1 1132.1 L873.1 1134.2 L875.3 1136.3 L877.7 1138.7 L882.6 1143.2 L888.2 1148.3 L894.4 1153.8 L901.1 1159.5 L908.0 1165.5 L915.1 1171.6 L922.2 1177.7 L929.1 1183.7 L935.8 1189.6 L942.1 1195.1 L947.4 1199.9 L952.7 1204.6 L957.8 1209.2 L962.9 1213.8 L967.9 1218.4 L972.8 1222.9 L977.7 1227.4 L982.6 1231.8 L987.4 1236.2 L992.2 1240.6 L996.5 1244.7 L1000.8 1248.6 L1005.1 1252.6 L1009.3 1256.5 L1013.4 1260.3 L1017.6 1264.2 L1021.7 1268.0 L1025.8 1271.9 L1030.0 1275.8 L1034.2 1279.7" fill="none" stroke="#fff0a8" stroke-width="5.2" stroke-linecap="butt" stroke-linejoin="round" />
<path d="M691.7 846.7 L691.8 847.9 L692.0 849.0 L692.2 850.2 L692.4 851.3 L692.6 852.5 L692.8 853.7 L693.0 854.9 L693.2 856.2 L693.4 857.5 L693.7 858.9 L694.1 860.7 L694.5 862.6 L694.9 864.5 L695.3 866.5 L695.8 868.5 L696.3 870.6 L696.8 872.6 L697.3 874.6 L697.8 876.6 L698.2 878.5 L698.7 880.3 L699.1 882.0 L699.5 883.7 L699.9 885.4 L700.3 887.2 L700.8 888.9 L701.2 890.6 L701.7 892.4 L702.2 894.3 L702.8 896.2 L703.5 898.8 L704.4 901.4 L705.3 904.1 L706.2 906.9 L707.1 909.7 L708.1 912.5 L709.0 915.4 L710.0 918.2 L710.9 921.0 L711.8 923.8 L712.7 926.7 L713.5 929.6 L714.3 932.6 L715.1 935.6 L715.9 938.6 L716.8 941.7 L717.7 944.8 L718.6 947.9 L719.7 951.0 L720.9 954.1 L722.3 957.4 L723.8 960.7 L725.3 963.9 L726.9 967.1 L728.6 970.2 L730.3 973.4 L732.0 976.5 L733.7 979.7 L735.4 982.8 L737.1 985.9 L738.9 989.0 L740.6 992.2 L742.4 995.4 L744.2 998.6 L746.0 1001.8 L747.8 1005.0 L749.7 1008.1 L751.5 1011.3 L753.4 1014.3 L755.3 1017.3 L757.0 1020.1 L758.8 1022.9 L760.6 1025.6 L762.4 1028.2 L764.2 1030.9 L766.0 1033.5 L767.9 1036.1 L769.7 1038.7 L771.6 1041.2 L773.5 1043.7 L775.4 1046.1 L777.3 1048.4 L779.2 1050.7 L781.1 1052.9 L783.0 1055.2 L784.9 1057.4 L786.9 1059.5 L788.8 1061.7 L790.8 1063.8 L792.8 1066.0 L794.7 1068.1 L796.6 1070.1 L798.5 1072.1 L800.4 1074.1 L802.3 1076.1 L804.3 1078.1 L806.3 1080.1 L808.4 1082.2 L810.6 1084.4 L812.9 1086.7 L816.4 1090.0 L820.2 1093.6 L824.3 1097.4 L828.5 1101.3 L832.8 1105.2 L837.0 1109.2 L841.2 1113.1 L845.3 1116.8 L849.0 1120.3 L852.4 1123.6 L854.6 1125.8 L856.6 1127.9 L858.4 1129.8 L860.2 1131.7 L862.0 1133.5 L863.7 1135.4 L865.6 1137.4 L867.7 1139.5 L869.9 1141.8 L872.5 1144.2 L877.5 1148.8 L883.2 1154.0 L889.4 1159.5 L896.1 1165.3 L903.1 1171.3 L910.1 1177.4 L917.2 1183.5 L924.2 1189.5 L930.8 1195.3 L937.1 1200.8 L942.4 1205.5 L947.6 1210.2 L952.7 1214.8 L957.8 1219.4 L962.7 1224.0 L967.7 1228.5 L972.6 1233.0 L977.4 1237.4 L982.2 1241.8 L987.0 1246.2 L991.4 1250.2 L995.7 1254.2 L999.9 1258.1 L1004.1 1262.0 L1008.2 1265.9 L1012.4 1269.8 L1016.5 1273.6 L1020.7 1277.5 L1024.8 1281.3 L1029.0 1285.2" fill="none" stroke="#c03a18" stroke-width="1.8" stroke-linecap="butt" stroke-linejoin="round" />
<path d="M641.0 846.0 L641.3 847.2 L641.6 848.4 L641.9 849.6 L642.2 850.7 L642.5 851.9 L642.8 853.1 L643.1 854.3 L643.4 855.5 L643.7 856.7 L644.0 857.9 L644.3 859.0 L644.6 860.2 L645.0 861.4 L645.3 862.6 L645.6 863.8 L646.0 865.0 L646.4 866.2 L646.8 867.5 L647.2 868.8 L647.6 870.1 L648.0 871.3 L648.4 872.6 L648.9 873.9 L649.3 875.2 L649.8 876.5 L650.2 877.7 L650.7 879.0 L651.1 880.2 L651.6 881.4 L652.1 882.7 L652.5 883.8 L653.0 885.0 L653.4 886.0 L653.8 887.0 L654.3 888.0 L654.7 888.9 L655.1 889.9 L655.6 890.8 L656.0 891.7 L656.5 892.7 L656.9 893.6 L657.3 894.5 L657.8 895.4 L658.2 896.3 L658.7 897.2 L659.1 898.1 L659.6 899.1 L660.0 900.0" fill="none" stroke="#101010" stroke-width="10.0" stroke-linecap="butt" stroke-linejoin="round" />
<path d="M651.0 846.0 L651.9 848.9 L652.8 851.8 L653.7 854.8 L654.7 857.7 L655.6 860.6 L656.5 863.5 L657.4 866.4 L658.3 869.3 L659.2 872.2 L660.0 875.0 L660.8 877.5 L661.5 880.0 L662.2 882.3 L662.9 884.7 L663.6 887.1 L664.3 889.4 L664.9 891.9 L665.6 894.5 L666.3 897.1 L667.0 900.0 L668.0 904.3 L669.0 908.9 L670.1 913.7 L671.1 918.7 L672.2 923.9 L673.2 929.1 L674.2 934.4 L675.2 939.7 L676.1 944.9 L677.0 950.0 L677.8 955.0 L678.6 960.2 L679.3 965.4 L680.0 970.6 L680.7 975.8 L681.4 980.9 L682.0 985.9 L682.7 990.8 L683.3 995.5 L684.0 1000.0 L684.5 1003.3 L685.0 1006.4 L685.4 1009.5 L685.8 1012.4 L686.2 1015.3 L686.7 1018.2 L687.2 1021.0 L687.7 1023.9 L688.3 1026.9 L689.0 1030.0 L689.9 1033.6 L690.8 1037.2 L691.8 1040.9 L692.8 1044.6 L693.9 1048.3 L695.1 1052.1 L696.2 1055.9 L697.5 1059.8 L698.7 1063.6 L700.0 1067.5 L701.4 1071.9 L702.9 1076.4 L704.4 1080.9 L706.0 1085.5 L707.6 1090.1 L709.3 1094.7 L711.0 1099.3 L712.8 1103.8 L714.6 1108.2 L716.5 1112.5 L718.4 1116.5 L720.4 1120.5 L722.4 1124.4 L724.6 1128.4 L726.7 1132.2 L728.9 1136.0 L731.1 1139.7 L733.3 1143.3 L735.4 1146.7 L737.5 1150.0 L739.2 1152.5 L740.8 1154.8 L742.5 1157.0 L744.1 1159.2 L745.8 1161.2 L747.4 1163.3 L749.0 1165.5 L750.7 1167.7 L752.3 1170.0 L754.0 1172.5 L756.1 1175.8 L758.1 1179.4 L760.2 1183.1 L762.2 1187.0 L764.3 1190.9 L766.3 1194.9 L768.4 1198.8 L770.6 1202.7 L772.8 1206.4 L775.0 1210.0 L777.2 1213.2 L779.4 1216.4 L781.7 1219.6 L784.0 1222.6 L786.3 1225.7 L788.7 1228.7 L791.0 1231.6 L793.2 1234.5 L795.4 1237.3 L797.5 1240.0 L799.2 1242.2 L800.8 1244.3 L802.4 1246.3 L804.0 1248.3 L805.5 1250.2 L807.0 1252.2 L808.5 1254.1 L810.0 1256.0 L811.5 1258.0 L813.0 1260.0 L814.4 1262.0 L815.8 1263.9 L817.1 1265.7 L818.3 1267.6 L819.6 1269.5 L820.9 1271.5 L822.3 1273.5 L823.8 1275.5 L825.3 1277.7 L827.0 1280.0 L829.8 1283.7 L832.9 1287.7 L836.3 1292.0 L839.8 1296.4 L843.5 1301.0 L847.2 1305.6 L851.0 1310.3 L854.7 1314.9 L858.4 1319.5 L862.0 1324.0" fill="none" stroke="#0d0d0d" stroke-width="15.0" stroke-linecap="butt" stroke-linejoin="round" />
<path d="M653.9 845.1 L654.8 848.0 L655.7 850.9 L656.6 853.9 L657.5 856.8 L658.5 859.7 L659.4 862.7 L660.3 865.6 L661.2 868.5 L662.0 871.3 L662.9 874.1 L663.6 876.7 L664.4 879.1 L665.1 881.5 L665.8 883.9 L666.5 886.2 L667.1 888.6 L667.8 891.1 L668.5 893.7 L669.2 896.4 L669.9 899.3 L670.9 903.6 L672.0 908.2 L673.0 913.1 L674.1 918.1 L675.1 923.3 L676.1 928.6 L677.2 933.9 L678.1 939.2 L679.1 944.4 L680.0 949.5 L680.8 954.6 L681.6 959.8 L682.3 965.0 L683.0 970.2 L683.7 975.4 L684.4 980.5 L685.0 985.5 L685.7 990.4 L686.3 995.1 L687.0 999.6 L687.5 1002.9 L687.9 1006.0 L688.4 1009.0 L688.8 1012.0 L689.2 1014.8 L689.7 1017.7 L690.1 1020.5 L690.7 1023.4 L691.3 1026.3 L691.9 1029.3 L692.8 1032.9 L693.7 1036.5 L694.7 1040.1 L695.7 1043.8 L696.8 1047.5 L697.9 1051.2 L699.1 1055.0 L700.3 1058.8 L701.6 1062.7 L702.9 1066.6 L704.3 1070.9 L705.8 1075.4 L707.3 1080.0 L708.8 1084.5 L710.4 1089.1 L712.1 1093.7 L713.8 1098.2 L715.5 1102.7 L717.3 1107.0 L719.2 1111.3 L721.1 1115.2 L723.0 1119.1 L725.1 1123.0 L727.2 1126.9 L729.3 1130.7 L731.5 1134.5 L733.6 1138.1 L735.8 1141.7 L737.9 1145.1 L740.0 1148.4 L741.6 1150.8 L743.2 1153.1 L744.9 1155.2 L746.5 1157.3 L748.1 1159.4 L749.8 1161.5 L751.4 1163.6 L753.1 1165.9 L754.8 1168.3 L756.5 1170.9 L758.6 1174.3 L760.7 1177.9 L762.8 1181.7 L764.9 1185.6 L766.9 1189.5 L769.0 1193.5 L771.1 1197.4 L773.2 1201.2 L775.3 1204.9 L777.5 1208.4 L779.6 1211.5 L781.8 1214.7 L784.1 1217.8 L786.4 1220.8 L788.7 1223.9 L791.0 1226.8 L793.3 1229.8 L795.6 1232.6 L797.8 1235.4 L799.9 1238.2 L801.5 1240.3 L803.2 1242.4 L804.7 1244.4 L806.3 1246.4 L807.9 1248.4 L809.4 1250.3 L810.9 1252.3 L812.4 1254.2 L813.9 1256.2 L815.4 1258.2 L816.9 1260.2 L818.2 1262.1 L819.5 1264.1 L820.8 1265.9 L822.1 1267.8 L823.4 1269.8 L824.8 1271.8 L826.2 1273.8 L827.7 1275.9 L829.4 1278.2 L832.2 1281.9 L835.3 1285.9 L838.6 1290.1 L842.1 1294.5 L845.8 1299.1 L849.5 1303.7 L853.3 1308.4 L857.1 1313.1 L860.8 1317.6 L864.3 1322.1" fill="none" stroke="#2e2e2e" stroke-width="2.6" stroke-linecap="butt" stroke-linejoin="round" />
<path d="M860.0 1321.0 L861.5 1323.6 L863.0 1326.2 L864.6 1328.8 L866.1 1331.5 L867.6 1334.1 L869.1 1336.7 L870.6 1339.3 L872.1 1341.9 L873.6 1344.5 L875.0 1347.0 L876.3 1349.3 L877.6 1351.7 L878.8 1354.0 L880.1 1356.2 L881.3 1358.5 L882.5 1360.8 L883.8 1363.1 L885.0 1365.4 L886.2 1367.7 L887.5 1370.0 L888.8 1372.5 L890.2 1374.9 L891.5 1377.4 L892.9 1379.9 L894.2 1382.5 L895.6 1385.0 L896.9 1387.5 L898.3 1390.0 L899.6 1392.5 L901.0 1395.0 L902.3 1397.5 L903.7 1400.0 L905.0 1402.5 L906.4 1405.1 L907.7 1407.6 L909.1 1410.1 L910.4 1412.6 L911.8 1415.0 L913.1 1417.3 L914.5 1419.5 L915.6 1421.3 L916.8 1423.1 L917.9 1424.8 L919.1 1426.5 L920.2 1428.2 L921.4 1429.8 L922.5 1431.4 L923.7 1432.9 L924.8 1434.5 L926.0 1436.0 L927.1 1437.4 L928.1 1438.7 L929.2 1440.0 L930.2 1441.2 L931.3 1442.5 L932.3 1443.7 L933.4 1445.0 L934.6 1446.2 L935.8 1447.5 L937.0 1448.8 L938.5 1450.3 L940.1 1451.8 L941.8 1453.3 L943.5 1454.8 L945.2 1456.3 L947.0 1457.9 L948.8 1459.4 L950.5 1460.9 L952.3 1462.5 L954.0 1464.0" fill="none" stroke="#141414" stroke-width="17.5" stroke-linecap="butt" stroke-linejoin="round" />
<path d="M862.6 1319.5 L864.1 1322.1 L865.6 1324.7 L867.1 1327.3 L868.7 1330.0 L870.2 1332.6 L871.7 1335.2 L873.2 1337.8 L874.7 1340.4 L876.2 1343.0 L877.6 1345.5 L878.9 1347.9 L880.2 1350.2 L881.5 1352.5 L882.7 1354.8 L884.0 1357.1 L885.2 1359.4 L886.4 1361.6 L887.6 1363.9 L888.9 1366.2 L890.1 1368.6 L891.5 1371.0 L892.8 1373.5 L894.2 1376.0 L895.5 1378.5 L896.9 1381.0 L898.2 1383.5 L899.6 1386.1 L900.9 1388.6 L902.3 1391.1 L903.6 1393.6 L905.0 1396.1 L906.3 1398.6 L907.7 1401.1 L909.0 1403.7 L910.4 1406.2 L911.7 1408.7 L913.1 1411.1 L914.4 1413.5 L915.7 1415.7 L917.1 1417.9 L918.2 1419.7 L919.3 1421.5 L920.4 1423.2 L921.5 1424.8 L922.7 1426.4 L923.8 1428.0 L924.9 1429.6 L926.1 1431.1 L927.2 1432.7 L928.4 1434.2 L929.4 1435.5 L930.5 1436.8 L931.5 1438.1 L932.5 1439.3 L933.5 1440.5 L934.6 1441.8 L935.7 1443.0 L936.8 1444.2 L937.9 1445.4 L939.1 1446.6 L940.6 1448.1 L942.2 1449.6 L943.8 1451.1 L945.5 1452.6 L947.2 1454.1 L948.9 1455.6 L950.7 1457.1 L952.5 1458.7 L954.3 1460.2 L956.0 1461.8" fill="none" stroke="#333" stroke-width="2.5" stroke-linecap="butt" stroke-linejoin="round" />
<ellipse cx="915" cy="1421" rx="11" ry="10" fill="#1c1c1c"/>
<path d="M545 673 L790 673 L790 845 Q730 853 668 853 Q600 853 545 847 Z" fill="url(#gLow)"/>
<path d="M545 674.5 L790 674.5" stroke="#555" stroke-width="2.5" fill="none" opacity="0.8"/>
<rect x="585" y="592" width="163" height="85" fill="url(#gUp)"/>
<path d="M570 575 L766 575 Q772 577 771 584 Q771 590 764 593 L748 603 L585 603 L572 593 Q565 590 565 584 Q565 577 570 575Z" fill="#111"/>
<path d="M571 548 L579 540 L700 540 L705 544 L763 544 L763 576 L571 576 Z" fill="url(#gNut)"/>
<path d="M571 548 L579 540 L700 540 L705 544 L763 544 L763 576 L571 576 Z" fill="url(#gNutV)"/>
<path d="M592 541 L592 575" stroke="#444" stroke-width="1.5"/>
<rect x="607" y="470" width="118" height="36" fill="#0c0c0c"/>
<rect x="601" y="502" width="129" height="39" fill="#0b0b0b"/>
<path d="M601 504 l-3 3 l3 3 l-3 3 l3 3 l-3 3 l3 3 l-3 3 l3 3 l-3 3 l3 3 l-3 3 l3 3 M730 504 l3 3 l-3 3 l3 3 l-3 3 l3 3 l-3 3 l3 3 l-3 3 l3 3 l-3 3 l3 3 l-3 3" stroke="#111" stroke-width="2.5" fill="none"/>
<path d="M567 391 C563 400 561 420 562 439 C563 452 565 462 567 466 C569 473 571 478 575 481 L745 481 C750 472 753 456 752 439 C752 418 748 402 744 391 Z" fill="#0b0b0b"/>
<path d="M564 308 C564 290 566 276 578 268 C588 262 620 260 665 259 C700 259 725 261 734 266 C747 272 750 288 751 322 L754 380 L752 394 L578 394 C572 390 566 378 564 365 Z" fill="#0b0b0b"/>
<g filter="url(#soft3)"><path d="M578 406 L742 406" stroke="#5a5a5a" stroke-width="4" opacity="0.50"/><path d="M578 419 L742 419" stroke="#5a5a5a" stroke-width="4" opacity="0.55"/><path d="M578 430 L742 430" stroke="#5a5a5a" stroke-width="4" opacity="0.60"/><path d="M578 441 L742 441" stroke="#5a5a5a" stroke-width="4" opacity="0.50"/><path d="M578 453 L742 453" stroke="#5a5a5a" stroke-width="4" opacity="0.60"/><path d="M578 464 L742 464" stroke="#5a5a5a" stroke-width="4" opacity="0.50"/><rect x="676.0" y="581.0" width="69.0" height="12.0" rx="3" fill="#707070" opacity="0.95"/><rect x="574.0" y="581.0" width="40.0" height="12.0" rx="3" fill="#606060" opacity="0.90"/><rect x="615.0" y="583.0" width="27.0" height="13.0" rx="3" fill="#fff" opacity="1.00"/><rect x="644.0" y="581.0" width="28.0" height="11.0" rx="3" fill="#2a2a2a" opacity="0.90"/><rect x="634.0" y="506.0" width="16.0" height="32.0" rx="3" fill="#3a3a3a" opacity="0.80"/><rect x="636.0" y="475.0" width="15.0" height="11.0" rx="3" fill="#999" opacity="0.90"/><rect x="628.0" y="492.0" width="24.0" height="9.0" rx="3" fill="#fff" opacity="1.00"/><rect x="670.0" y="494.0" width="24.0" height="6.0" rx="3" fill="#aaa" opacity="0.90"/><rect x="670.0" y="477.0" width="32.0" height="7.0" rx="3" fill="#555" opacity="0.80"/><rect x="607.0" y="403.0" width="31.0" height="8.0" rx="3" fill="#fff" opacity="1.00"/><rect x="607.0" y="417.0" width="31.0" height="5.0" rx="3" fill="#fff" opacity="0.60"/><rect x="607.0" y="426.0" width="31.0" height="8.0" rx="3" fill="#fff" opacity="1.00"/><rect x="607.0" y="448.0" width="31.0" height="9.0" rx="3" fill="#fff" opacity="1.00"/><rect x="615.0" y="461.0" width="27.0" height="7.0" rx="3" fill="#fff" opacity="1.00"/><rect x="667.0" y="403.0" width="31.0" height="5.0" rx="3" fill="#bbb" opacity="0.45"/><rect x="667.0" y="416.0" width="31.0" height="5.0" rx="3" fill="#bbb" opacity="0.60"/><rect x="667.0" y="426.0" width="31.0" height="7.0" rx="3" fill="#bbb" opacity="0.90"/><rect x="667.0" y="438.0" width="31.0" height="5.0" rx="3" fill="#bbb" opacity="0.55"/><rect x="667.0" y="449.0" width="31.0" height="8.0" rx="3" fill="#bbb" opacity="0.95"/><rect x="667.0" y="461.0" width="31.0" height="6.0" rx="3" fill="#bbb" opacity="0.80"/><path d="M568 396 Q600 392 660 393" stroke="#555" stroke-width="5" opacity="0.7" fill="none"/><path d="M588 326 Q660 318 738 322 Q748 350 746 380 Q660 392 594 384 Q584 350 588 326 Z" fill="url(#gPanel)" opacity="0.95"/></g>
<path d="M575 377 L575 288" stroke="#f4f4f4" stroke-width="3.4" stroke-linecap="round" fill="none"/>
<path d="M592 305 L600 295 C615 292 640 291 701 290 L703 294 L695 311 C680 312 640 312 599 313 Z" fill="#fff"/>
<path d="M757 446 C762 420 790 402 812 398 L830 440 L800 524 L786 523 C773 502 764 476 757 446 Z" fill="#fbfbfb"/>
<path d="M757.0 446.0 L757.4 447.9 L757.7 449.8 L758.1 451.7 L758.4 453.6 L758.7 455.5 L759.0 457.4 L759.4 459.3 L759.7 461.2 L760.1 463.1 L760.4 465.0 L760.8 466.8 L761.2 468.7 L761.6 470.5 L762.0 472.4 L762.5 474.2 L763.0 476.0 L763.5 477.7 L764.0 479.4 L764.6 481.1 L765.1 482.8 L765.7 484.4 L766.3 486.1 L766.9 487.8 L767.5 489.4 L768.1 491.0 L768.8 492.6 L769.4 494.2 L770.1 495.8 L770.8 497.4 L771.5 498.9 L772.3 500.5 L773.0 502.0 L773.7 503.4 L774.5 504.8 L775.2 506.1 L776.0 507.5 L776.8 508.8 L777.6 510.1 L778.4 511.4 L779.3 512.7 L780.1 514.0 L781.0 515.3 L781.8 516.6 L782.7 517.8 L783.5 519.1 L784.4 520.4 L785.2 521.7 L786.0 523.0" fill="none" stroke="#0c0c0c" stroke-width="8.5" stroke-linecap="butt" stroke-linejoin="round" />
<path d="M762.0 392.0 L762.8 392.5 L763.6 393.1 L764.4 393.7 L765.2 394.3 L766.0 394.9 L766.8 395.5 L767.6 396.1 L768.4 396.7 L769.2 397.3 L770.0 397.8 L770.8 398.3 L771.6 398.8 L772.4 399.2 L773.3 399.5 L774.1 399.8 L775.0 400.0 L775.9 400.1 L776.8 400.2 L777.7 400.2 L778.7 400.1 L779.7 400.0 L780.7 399.9 L781.6 399.7 L782.6 399.5 L783.6 399.3 L784.6 399.0 L785.5 398.7 L786.5 398.4 L787.4 398.0 L788.3 397.7 L789.2 397.3 L790.0 397.0 L790.7 396.7 L791.4 396.3 L792.1 395.9 L792.7 395.5 L793.4 395.1 L794.0 394.7 L794.6 394.2 L795.2 393.8 L795.8 393.3 L796.4 392.8 L797.0 392.3 L797.6 391.8 L798.2 391.4 L798.8 390.9 L799.4 390.4 L800.0 390.0" fill="none" stroke="#666" stroke-width="2.2" stroke-linecap="round" stroke-linejoin="round" />
<path d="M758.0 368.0 L758.5 368.4 L759.0 368.8 L759.5 369.3 L760.0 369.7 L760.5 370.2 L761.0 370.7 L761.5 371.1 L762.0 371.6 L762.5 372.0 L763.0 372.4 L763.5 372.8 L764.0 373.2 L764.5 373.5 L765.0 373.7 L765.5 373.9 L766.0 374.0 L766.4 374.0 L766.8 374.0 L767.1 374.0 L767.5 373.9 L767.9 373.8 L768.3 373.7 L768.6 373.5 L769.0 373.4 L769.4 373.2 L769.8 373.0 L770.1 372.8 L770.5 372.6 L770.9 372.5 L771.3 372.3 L771.6 372.1 L772.0 372.0" fill="none" stroke="#777" stroke-width="3.5" stroke-linecap="round" stroke-linejoin="round" />
<path d="M816 406 L771 438 L772 450 L780 484 L797 519 L868 694 L874 686 L832 507 C838 496 842 486 841 475 L834 440 C830 425 824 414 816 406 Z" fill="url(#gKeyS)"/>
<path d="M816 406 L771 438" stroke="#999" stroke-width="1.6" fill="none"/>
<path d="M806.0 382.0 L806.5 382.6 L807.0 383.2 L807.6 383.8 L808.1 384.4 L808.7 385.0 L809.3 385.6 L809.8 386.2 L810.4 386.9 L810.9 387.5 L811.4 388.1 L811.9 388.7 L812.4 389.3 L812.9 390.0 L813.3 390.6 L813.7 391.3 L814.0 392.0 L814.3 392.7 L814.5 393.4 L814.7 394.1 L814.9 394.8 L815.0 395.6 L815.2 396.3 L815.3 397.1 L815.4 397.9 L815.4 398.6 L815.5 399.4 L815.6 400.2 L815.6 400.9 L815.7 401.7 L815.8 402.5 L815.9 403.2 L816.0 404.0" fill="none" stroke="#222" stroke-width="3.0" stroke-linecap="round" stroke-linejoin="round" />
<path d="M799.0 520.0 L805.0 531.0 L830.0 611.0" fill="none" stroke="#0a0a0a" stroke-width="9.0" stroke-linecap="butt" stroke-linejoin="round" />
<path d="M833.0 578.0 L848.0 630.0 L869.0 694.0" fill="none" stroke="#111" stroke-width="6.2" stroke-linecap="butt" stroke-linejoin="round" />
<path d="M830.0 612.0 L842.0 648.0 L858.0 684.0" fill="none" stroke="#1a1a1a" stroke-width="4.0" stroke-linecap="butt" stroke-linejoin="round" stroke-dasharray="6 5"/>
<g transform="translate(1185.8 389.2) rotate(-59.85)">
<path d="M0 -20.5 Q105 -24 209 -20.5 L209 20.5 Q105 17 0 20.5 Z" fill="url(#gA)" stroke="#cfe5de" stroke-width="1.2"/>
<rect x="12" y="-7" width="56" height="10" rx="4" fill="#a9bbb3" opacity="0.9"/>
<rect x="66" y="-10" width="7" height="22" rx="2" fill="#c9dbd4" opacity="0.9"/>
<rect x="148" y="-4" width="50" height="11" rx="2" fill="#fff"/>
<path d="M84 -8 L98 6 M118 -2 L140 6 M128 8 L146 -2" stroke="#c0d2cb" stroke-width="3" fill="none"/>
</g>
<g transform="translate(1269.0 580.7) rotate(-22.42)">
<rect x="0" y="-21" width="230" height="42" rx="5" fill="url(#gA)" stroke="#cbe2db" stroke-width="1.2"/>
<path d="M2 -19 L40 -19 Q48 0 40 19 L6 19 Q0 0 2 -19Z" fill="#b9ded3" opacity="0.9"/>
<rect x="10" y="0" width="32" height="17" rx="7" fill="#8e8f9c" opacity="0.85"/>
<rect x="4" y="-18" width="26" height="10" rx="4" fill="#9c9ea2" opacity="0.8"/>
<rect x="2" y="-8" width="10" height="20" rx="3" fill="#d8efe8" opacity="0.9"/>
<ellipse cx="62" cy="2" rx="5" ry="8" fill="#9fb3ab" opacity="0.8"/>
<path d="M104 6 Q112 -10 128 -6 M132 -8 Q142 -16 156 -12 L150 2" stroke="#c3d5ce" stroke-width="4" fill="none"/>
</g>
<g transform="translate(1280.3 1040.2) rotate(10.17)">
<rect x="0" y="-24.5" width="228" height="49" rx="5" fill="url(#gC)" stroke="#b9dccc" stroke-width="1.2"/>
<rect x="0" y="-24.5" width="62" height="49" rx="5" fill="url(#gCl)" opacity="0.95"/>
<path d="M4 -16 L36 -14 Q46 -4 38 4 L6 6 Z" fill="#5faa88" opacity="0.5"/>
<path d="M2 10 L30 8 L30 22 L2 22 Z" fill="#62b08c" opacity="0.45"/>
<rect x="52" y="-2" width="40" height="14" rx="3" fill="#97b3a4" opacity="0.75"/>
<rect x="60" y="-18" width="52" height="16" rx="3" fill="#eaf8f1" opacity="0.8"/>
<rect x="112" y="-14" width="100" height="20" rx="3" fill="#e6f6ee" opacity="0.8"/>
<rect x="142" y="8" width="66" height="8" rx="2" fill="#a9c6b6" opacity="0.8"/>
</g>
<g transform="translate(1262.0 710.5) rotate(-6.85)">
<path d="M0 -7 L24 -12 L50 -15 L105 -14 L105 14 L50 15 L24 12 L0 7 Z" fill="#e1f3ea" opacity="0.9"/>
<rect x="0" y="-5" width="44" height="10" fill="#b9b97c" opacity="0.65"/>
<rect x="26" y="-5.5" width="64" height="10" rx="3" fill="#a9c6ae" opacity="0.85"/>
<rect x="60" y="-11" width="45" height="22" rx="4" fill="#d4efe0" opacity="0.6"/>
</g>
<g transform="translate(1366.0 694.0) rotate(-3.88)">
<path d="M0 1 L12 1" stroke="#bbb" stroke-width="2.5"/>
<path d="M12 -7 L66 -9 Q81 -7 81 0 Q81 7 66 9 L18 9 Z" fill="#fcfcfc" stroke="#c9c9c9" stroke-width="1.4"/>
<path d="M14 -4 L19 9 L30 9 M40 5 L58 4" stroke="#333" stroke-width="2.4" fill="none"/>
</g>
<g transform="translate(1116.0 1073.0) rotate(26.81)">
<path d="M0 -8 L40 -11 L52 -14 L106 -13 L106 13 L52 14 L40 11 L0 8 Z" fill="#e7f4da" opacity="0.8"/>
<rect x="0" y="-5.5" width="56" height="10" fill="#f3ec8c" opacity="0.85"/>
<rect x="0" y="3.5" width="50" height="2.5" fill="#55552a" opacity="0.6"/>
<rect x="52" y="-12" width="54" height="24" rx="4" fill="#dcf0d4" opacity="0.85"/>
<rect x="96" y="-8" width="10" height="14" fill="#f1ee86"/>
</g>
<g transform="translate(1211.0 1119.0) rotate(21.25)">
<path d="M0 -3 L28 -4 L36 -8 L98 -8 Q112 -6 116 0 Q112 6 98 8 L36 8 L28 4 L0 3 Z" fill="url(#gBul)" stroke="#777" stroke-width="1.2"/>
<path d="M0 2 Q8 9 22 8" stroke="#111" stroke-width="5" fill="none"/>
<path d="M52 8 L70 9 M74 9 L90 8 M94 8 L110 4" stroke="#111" stroke-width="4.4" fill="none"/>
</g>
<g transform="translate(1080.0 1162.0) rotate(22.18)">
<path d="M22 -8 L44 -20 L66 -17 L88 -8 Z" fill="#cfeadd" opacity="0.8"/>
<rect x="0" y="-8.5" width="111" height="17" rx="4" fill="#ee9c98"/>
<rect x="0" y="-8.5" width="111" height="5" rx="2" fill="#f9cfcb" opacity="0.9"/>
<rect x="12" y="-9" width="4" height="18" fill="#f9d9d5"/><rect x="66" y="-9" width="4" height="18" fill="#f9d9d5"/>
</g>
<g transform="translate(1183.0 1204.0) rotate(20.68)">
<path d="M0 -5 L18 -3 L40 -3 L46 -8 L93 -8 Q105 -6 109 0 Q105 6 93 8 L46 8 L40 3 L18 4 L0 5 Z" fill="url(#gBul)" stroke="#888" stroke-width="1.2"/>
<path d="M6 -5 L20 3 M8 5 L20 -3" stroke="#7a1830" stroke-width="4" fill="none"/>
<path d="M42 -7 L40 8" stroke="#3a1a10" stroke-width="4.5" fill="none"/>
<path d="M48 8 L66 9 M70 9 L92 7" stroke="#333" stroke-width="3.6" fill="none"/>
</g>
<path d="M1029.0 1277.0 L1066.0 1312.0 L1102.0 1347.0" fill="none" stroke="#0e0e0e" stroke-width="15.0" stroke-linecap="butt" stroke-linejoin="round" />
<path d="M1096 1340 L1117 1338 L1153 1366 L1136 1396 L1101 1369 Z" fill="#0e0e0e"/>
<ellipse cx="970" cy="1484" rx="21" ry="15" fill="none" stroke="#8c8c8c" stroke-width="3" transform="rotate(38 970 1484)"/>
<path d="M958 1470 Q972 1462 984 1478" fill="none" stroke="#f2f2f2" stroke-width="3.4"/>
</g>

<g filter="url(#tsoft)"><line class="dl" x1="545" y1="898.3" x2="762" y2="898.3" opacity="0.85"/><text class="dm" x="522" y="960" style="font-size:40.5px" textLength="291" lengthAdjust="spacingAndGlyphs" stroke-width="1.5">1.47in/37.5mm</text></g>
<g id="ring" filter="url(#tsoft)">
<path d="M703.0 292.0 L704.7 292.8 L706.4 293.6 L708.1 294.4 L709.8 295.2 L711.5 296.0 L713.2 296.8 L714.9 297.6 L716.6 298.4 L718.3 299.2 L719.9 300.0 L721.6 300.8 L723.3 301.6 L725.0 302.4 L726.7 303.3 L728.3 304.1 L730.0 305.0 L731.7 305.9 L733.3 306.7 L734.9 307.6 L736.5 308.4 L738.2 309.2 L739.8 310.1 L741.4 310.9 L743.0 311.8 L744.6 312.7 L746.2 313.6 L747.8 314.5 L749.4 315.5 L751.1 316.6 L752.7 317.7 L754.3 318.8 L756.0 320.0 L758.1 321.6 L760.2 323.3 L762.4 325.2 L764.7 327.1 L766.9 329.1 L769.1 331.2 L771.4 333.3 L773.6 335.4 L775.9 337.6 L778.1 339.7 L780.2 341.9 L782.3 344.0 L784.3 346.1 L786.3 348.2 L788.2 350.1 L790.0 352.0 L791.3 353.4 L792.7 354.8 L794.0 356.1 L795.2 357.4 L796.5 358.7 L797.7 360.0 L798.9 361.3 L800.0 362.5 L801.2 363.8 L802.3 365.1 L803.3 366.4 L804.3 367.7 L805.3 369.0 L806.3 370.3 L807.2 371.6 L808.0 373.0 L808.7 374.3 L809.4 375.6 L810.1 376.9 L810.7 378.3 L811.3 379.7 L811.9 381.0 L812.5 382.4 L813.0 383.8 L813.5 385.2 L813.9 386.6 L814.3 387.9 L814.7 389.2 L815.1 390.5 L815.4 391.7 L815.7 392.9 L816.0 394.0 L816.2 394.7 L816.3 395.4 L816.4 396.1 L816.5 396.7 L816.6 397.4 L816.6 398.0 L816.7 398.6 L816.7 399.2 L816.8 399.8 L816.8 400.4 L816.8 401.0 L816.8 401.6 L816.9 402.2 L816.9 402.8 L816.9 403.4 L817.0 404.0" fill="none" stroke="#fff" stroke-width="14.0" stroke-linecap="butt" stroke-linejoin="round" />
<path d="M705.3 287.1 L707.0 287.9 L708.7 288.7 L710.4 289.5 L712.1 290.3 L713.8 291.1 L715.5 291.9 L717.2 292.7 L718.9 293.5 L720.6 294.3 L722.3 295.1 L724.0 295.9 L725.7 296.8 L727.4 297.6 L729.1 298.5 L730.8 299.3 L732.5 300.2 L734.1 301.1 L735.8 301.9 L737.4 302.8 L739.0 303.6 L740.6 304.4 L742.3 305.3 L743.9 306.2 L745.6 307.0 L747.2 308.0 L748.9 308.9 L750.6 309.9 L752.3 311.0 L754.0 312.0 L755.7 313.2 L757.5 314.4 L759.2 315.7 L761.4 317.4 L763.7 319.2 L765.9 321.1 L768.2 323.0 L770.5 325.1 L772.8 327.2 L775.1 329.3 L777.4 331.5 L779.6 333.7 L781.9 335.9 L784.0 338.1 L786.2 340.2 L788.2 342.4 L790.2 344.4 L792.1 346.4 L793.9 348.3 L795.2 349.7 L796.5 351.0 L797.8 352.3 L799.1 353.7 L800.4 355.0 L801.6 356.3 L802.9 357.6 L804.1 358.9 L805.2 360.3 L806.4 361.6 L807.5 363.0 L808.6 364.4 L809.7 365.8 L810.7 367.2 L811.7 368.7 L812.6 370.2 L813.5 371.7 L814.2 373.1 L815.0 374.6 L815.6 376.1 L816.3 377.5 L816.9 379.0 L817.5 380.5 L818.1 382.0 L818.6 383.5 L819.0 384.9 L819.5 386.3 L819.9 387.7 L820.3 389.0 L820.6 390.3 L821.0 391.6 L821.3 392.8 L821.4 393.6 L821.6 394.4 L821.7 395.3 L821.9 396.0 L821.9 396.8 L822.0 397.5 L822.1 398.2 L822.1 398.9 L822.1 399.5 L822.2 400.1 L822.2 400.7 L822.2 401.3 L822.3 401.9 L822.3 402.4 L822.3 402.9 L822.4 403.5" fill="none" stroke="#161616" stroke-width="2.7" stroke-linecap="butt" stroke-linejoin="round" />
<path d="M703.0 292.0 L704.7 292.8 L706.4 293.6 L708.1 294.4 L709.8 295.2 L711.5 296.0 L713.2 296.8 L714.9 297.6 L716.6 298.4 L718.3 299.2 L719.9 300.0 L721.6 300.8 L723.3 301.6 L725.0 302.4 L726.7 303.3 L728.3 304.1 L730.0 305.0 L731.7 305.9 L733.3 306.7 L734.9 307.6 L736.5 308.4 L738.2 309.2 L739.8 310.1 L741.4 310.9 L743.0 311.8 L744.6 312.7 L746.2 313.6 L747.8 314.5 L749.4 315.5 L751.1 316.6 L752.7 317.7 L754.3 318.8 L756.0 320.0 L758.1 321.6 L760.2 323.3 L762.4 325.2 L764.7 327.1 L766.9 329.1 L769.1 331.2 L771.4 333.3 L773.6 335.4 L775.9 337.6 L778.1 339.7 L780.2 341.9 L782.3 344.0 L784.3 346.1 L786.3 348.2 L788.2 350.1 L790.0 352.0 L791.3 353.4 L792.7 354.8 L794.0 356.1 L795.2 357.4 L796.5 358.7 L797.7 360.0 L798.9 361.3 L800.0 362.5 L801.2 363.8 L802.3 365.1 L803.3 366.4 L804.3 367.7 L805.3 369.0 L806.3 370.3 L807.2 371.6 L808.0 373.0 L808.7 374.3 L809.4 375.6 L810.1 376.9 L810.7 378.3 L811.3 379.7 L811.9 381.0 L812.5 382.4 L813.0 383.8 L813.5 385.2 L813.9 386.6 L814.3 387.9 L814.7 389.2 L815.1 390.5 L815.4 391.7 L815.7 392.9 L816.0 394.0 L816.2 394.7 L816.3 395.4 L816.4 396.1 L816.5 396.7 L816.6 397.4 L816.6 398.0 L816.7 398.6 L816.7 399.2 L816.8 399.8 L816.8 400.4 L816.8 401.0 L816.8 401.6 L816.9 402.2 L816.9 402.8 L816.9 403.4 L817.0 404.0" fill="none" stroke="#2a2a2a" stroke-width="2.3" stroke-linecap="butt" stroke-linejoin="round" />
<path d="M700.7 296.9 L702.4 297.7 L704.1 298.5 L705.8 299.3 L707.5 300.1 L709.2 300.9 L710.9 301.7 L712.6 302.5 L714.3 303.3 L715.9 304.1 L717.6 304.9 L719.3 305.7 L720.9 306.5 L722.6 307.3 L724.2 308.1 L725.9 308.9 L727.5 309.8 L729.2 310.7 L730.8 311.5 L732.5 312.4 L734.1 313.2 L735.7 314.0 L737.3 314.8 L738.8 315.7 L740.4 316.5 L742.0 317.4 L743.5 318.3 L745.0 319.2 L746.6 320.1 L748.1 321.1 L749.7 322.1 L751.2 323.2 L752.8 324.3 L754.8 325.9 L756.8 327.5 L758.9 329.3 L761.1 331.1 L763.3 333.1 L765.5 335.1 L767.7 337.2 L769.9 339.3 L772.1 341.4 L774.2 343.6 L776.4 345.7 L778.4 347.8 L780.5 349.9 L782.4 351.9 L784.3 353.9 L786.1 355.7 L787.4 357.1 L788.8 358.5 L790.1 359.9 L791.3 361.2 L792.6 362.4 L793.8 363.7 L794.9 364.9 L796.0 366.2 L797.1 367.4 L798.1 368.6 L799.1 369.8 L800.1 371.0 L801.0 372.1 L801.8 373.3 L802.6 374.5 L803.4 375.8 L804.0 376.9 L804.6 378.1 L805.2 379.3 L805.8 380.5 L806.4 381.8 L806.9 383.1 L807.4 384.4 L807.9 385.7 L808.4 387.0 L808.8 388.2 L809.2 389.5 L809.5 390.7 L809.9 391.9 L810.2 393.1 L810.5 394.2 L810.7 395.2 L810.9 395.8 L811.0 396.4 L811.1 396.9 L811.1 397.4 L811.2 397.9 L811.3 398.5 L811.3 399.0 L811.3 399.5 L811.4 400.1 L811.4 400.6 L811.4 401.2 L811.4 401.8 L811.5 402.5 L811.5 403.1 L811.6 403.8 L811.6 404.5" fill="none" stroke="#161616" stroke-width="2.7" stroke-linecap="butt" stroke-linejoin="round" />
</g>
<!-- NUMBER BADGES -->
<g id="badges" filter="url(#soft)">
<circle cx="753.7" cy="1172.5" r="26.5" fill="#8fd4ee" fill-opacity="0.35"/>
<circle cx="753.7" cy="1172.5" r="24.5" fill="#5fb7de" fill-opacity="0.90"/>
<circle cx="753.7" cy="1172.5" r="22.5" fill="none" stroke="#9adcf3" stroke-opacity="0.75" stroke-width="3.5"/>
<text class="num" x="755.2" y="1191.0" fill="#3d94bf" stroke="#3d94bf" opacity="0.7" textLength="24" lengthAdjust="spacingAndGlyphs">1</text>
<text class="num" x="753.7" y="1190.0" textLength="24" lengthAdjust="spacingAndGlyphs">1</text>
<circle cx="855.5" cy="1120.5" r="26.5" fill="#8fd4ee" fill-opacity="0.35"/>
<circle cx="855.5" cy="1120.5" r="24.5" fill="#5fb7de" fill-opacity="0.90"/>
<circle cx="855.5" cy="1120.5" r="22.5" fill="none" stroke="#9adcf3" stroke-opacity="0.75" stroke-width="3.5"/>
<text class="num" x="857.0" y="1139.0" fill="#3d94bf" stroke="#3d94bf" opacity="0.7" textLength="24" lengthAdjust="spacingAndGlyphs">2</text>
<text class="num" x="855.5" y="1138.0" textLength="24" lengthAdjust="spacingAndGlyphs">2</text>
<circle cx="916.0" cy="1080.5" r="26.5" fill="#8fd4ee" fill-opacity="0.35"/>
<circle cx="916.0" cy="1080.5" r="24.5" fill="#5fb7de" fill-opacity="0.90"/>
<circle cx="916.0" cy="1080.5" r="22.5" fill="none" stroke="#9adcf3" stroke-opacity="0.75" stroke-width="3.5"/>
<text class="num" x="917.5" y="1099.0" fill="#3d94bf" stroke="#3d94bf" opacity="0.7" textLength="24" lengthAdjust="spacingAndGlyphs">3</text>
<text class="num" x="916.0" y="1098.0" textLength="24" lengthAdjust="spacingAndGlyphs">3</text>
<circle cx="959.8" cy="1022.6" r="26.5" fill="#8fd4ee" fill-opacity="0.35"/>
<circle cx="959.8" cy="1022.6" r="24.5" fill="#5fb7de" fill-opacity="0.90"/>
<circle cx="959.8" cy="1022.6" r="22.5" fill="none" stroke="#9adcf3" stroke-opacity="0.75" stroke-width="3.5"/>
<text class="num" x="961.3" y="1041.1" fill="#3d94bf" stroke="#3d94bf" opacity="0.7" textLength="24" lengthAdjust="spacingAndGlyphs">4</text>
<text class="num" x="959.8" y="1040.1" textLength="24" lengthAdjust="spacingAndGlyphs">4</text>
<circle cx="1065.0" cy="998.5" r="26.5" fill="#8fd4ee" fill-opacity="0.35"/>
<circle cx="1065.0" cy="998.5" r="24.5" fill="#5fb7de" fill-opacity="0.90"/>
<circle cx="1065.0" cy="998.5" r="22.5" fill="none" stroke="#9adcf3" stroke-opacity="0.75" stroke-width="3.5"/>
<text class="num" x="1066.5" y="1017.0" fill="#3d94bf" stroke="#3d94bf" opacity="0.7" textLength="24" lengthAdjust="spacingAndGlyphs">5</text>
<text class="num" x="1065.0" y="1016.0" textLength="24" lengthAdjust="spacingAndGlyphs">5</text>
<circle cx="913.0" cy="826.0" r="26.5" fill="#8fd4ee" fill-opacity="0.35"/>
<circle cx="913.0" cy="826.0" r="24.5" fill="#5fb7de" fill-opacity="0.90"/>
<circle cx="913.0" cy="826.0" r="22.5" fill="none" stroke="#9adcf3" stroke-opacity="0.75" stroke-width="3.5"/>
<text class="num" x="914.5" y="844.5" fill="#3d94bf" stroke="#3d94bf" opacity="0.7" textLength="24" lengthAdjust="spacingAndGlyphs">6</text>
<text class="num" x="913.0" y="843.5" textLength="24" lengthAdjust="spacingAndGlyphs">6</text>
</g>
</svg>
</body>
</html>
